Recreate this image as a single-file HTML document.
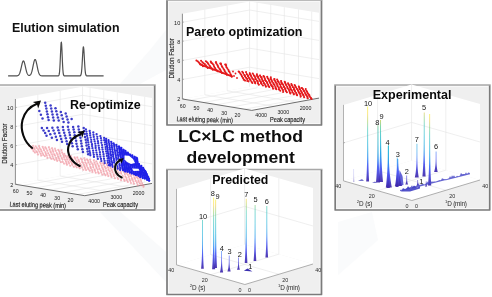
<!DOCTYPE html>
<html><head><meta charset="utf-8"><style>
html,body{margin:0;padding:0;background:#fff;width:492px;height:297px;overflow:hidden}
svg{display:block;font-family:"Liberation Sans",sans-serif;filter:blur(0.45px)}
</style></head><body><svg width="492" height="297" viewBox="0 0 492 297" font-family="Liberation Sans, sans-serif"><rect x="0" y="0" width="492" height="297" fill="#ffffff"/><polygon points="100,212 118,210 166,252 166,282" fill="#f9fafb"/><polygon points="120,84 150,50 166,30 166,70 140,84" fill="#f9fafb"/><polygon points="338,222 372,212 378,240 338,275" fill="#fafbfc"/><text x="12" y="31.8" font-size="12.2" font-weight="bold" fill="#111" text-anchor="start" textLength="107.5" lengthAdjust="spacingAndGlyphs" >Elution simulation</text><polyline points="8.1,75.9 8.35,75.9 8.6,75.9 8.85,75.9 9.1,75.9 9.35,75.9 9.6,75.9 9.85,75.9 10.1,75.9 10.35,75.9 10.6,75.9 10.85,75.9 11.1,75.9 11.35,75.9 11.6,75.9 11.85,75.9 12.1,75.9 12.35,75.9 12.6,75.9 12.85,75.9 13.1,75.9 13.35,75.9 13.6,75.9 13.85,75.9 14.1,75.9 14.35,75.9 14.6,75.9 14.85,75.9 15.1,75.9 15.35,75.9 15.6,75.89 15.85,75.89 16.1,75.88 16.35,75.87 16.6,75.85 16.85,75.83 17.1,75.79 17.35,75.75 17.6,75.68 17.85,75.58 18.1,75.45 18.35,75.28 18.6,75.06 18.85,74.77 19.1,74.41 19.35,73.97 19.6,73.43 19.85,72.8 20.1,72.05 20.35,71.21 20.6,70.27 20.85,69.25 21.1,68.16 21.35,67.03 21.6,65.9 21.85,64.79 22.1,63.76 22.35,62.83 22.6,62.05 22.85,61.46 23.1,61.07 23.35,60.9 23.6,60.97 23.85,61.27 24.1,61.79 24.35,62.5 24.6,63.37 24.85,64.37 25.1,65.45 25.35,66.57 25.6,67.71 25.85,68.82 26.1,69.87 26.35,70.84 26.6,71.73 26.85,72.51 27.1,73.18 27.35,73.76 27.6,74.23 27.85,74.61 28.1,74.92 28.35,75.14 28.6,75.31 28.85,75.41 29.1,75.46 29.35,75.46 29.6,75.4 29.85,75.29 30.1,75.12 30.35,74.89 30.6,74.57 30.85,74.17 31.1,73.67 31.35,73.07 31.6,72.35 31.85,71.52 32.1,70.57 32.35,69.53 32.6,68.39 32.85,67.19 33.1,65.95 33.35,64.72 33.6,63.52 33.85,62.41 34.1,61.43 34.35,60.61 34.6,60 34.85,59.63 35.1,59.5 35.35,59.63 35.6,60 35.85,60.61 36.1,61.43 36.35,62.41 36.6,63.52 36.85,64.72 37.1,65.95 37.35,67.19 37.6,68.39 37.85,69.53 38.1,70.58 38.35,71.52 38.6,72.35 38.85,73.07 39.1,73.68 39.35,74.18 39.6,74.6 39.85,74.92 40.1,75.18 40.35,75.38 40.6,75.53 40.85,75.64 41.1,75.72 41.35,75.78 41.6,75.82 41.85,75.84 42.1,75.86 42.35,75.88 42.6,75.89 42.85,75.89 43.1,75.89 43.35,75.9 43.6,75.9 43.85,75.9 44.1,75.9 44.35,75.9 44.6,75.9 44.85,75.9 45.1,75.9 45.35,75.9 45.6,75.9 45.85,75.9 46.1,75.9 46.35,75.9 46.6,75.9 46.85,75.9 47.1,75.9 47.35,75.9 47.6,75.9 47.85,75.9 48.1,75.9 48.35,75.9 48.6,75.9 48.85,75.9 49.1,75.9 49.35,75.9 49.6,75.9 49.85,75.9 50.1,75.9 50.35,75.9 50.6,75.9 50.85,75.9 51.1,75.9 51.35,75.9 51.6,75.9 51.85,75.9 52.1,75.9 52.35,75.9 52.6,75.9 52.85,75.9 53.1,75.9 53.35,75.9 53.6,75.9 53.85,75.9 54.1,75.9 54.35,75.9 54.6,75.9 54.85,75.9 55.1,75.9 55.35,75.9 55.6,75.9 55.85,75.9 56.1,75.9 56.35,75.9 56.6,75.9 56.85,75.9 57.1,75.9 57.35,75.9 57.6,75.9 57.85,75.89 58.1,75.87 58.35,75.82 58.6,75.68 58.85,75.37 59.1,74.71 59.35,73.46 59.6,71.31 59.85,67.99 60.1,63.39 60.35,57.75 60.6,51.75 60.85,46.43 61.1,42.93 61.35,42.06 61.6,44.05 61.85,48.4 62.1,54.13 62.35,60.09 62.6,65.37 62.85,69.47 63.1,72.3 63.35,74.05 63.6,75.03 63.85,75.52 64.1,75.75 64.35,75.85 64.6,75.88 64.85,75.89 65.1,75.9 65.35,75.9 65.6,75.9 65.85,75.9 66.1,75.9 66.35,75.9 66.6,75.9 66.85,75.9 67.1,75.9 67.35,75.9 67.6,75.9 67.85,75.9 68.1,75.9 68.35,75.9 68.6,75.9 68.85,75.9 69.1,75.9 69.35,75.9 69.6,75.9 69.85,75.9 70.1,75.9 70.35,75.9 70.6,75.9 70.85,75.9 71.1,75.9 71.35,75.9 71.6,75.9 71.85,75.9 72.1,75.9 72.35,75.9 72.6,75.9 72.85,75.9 73.1,75.9 73.35,75.9 73.6,75.9 73.85,75.9 74.1,75.9 74.35,75.9 74.6,75.9 74.85,75.9 75.1,75.9 75.35,75.9 75.6,75.9 75.85,75.9 76.1,75.9 76.35,75.9 76.6,75.9 76.85,75.9 77.1,75.9 77.35,75.9 77.6,75.9 77.85,75.9 78.1,75.9 78.35,75.9 78.6,75.9 78.85,75.9 79.1,75.9 79.35,75.9 79.6,75.89 79.85,75.87 80.1,75.83 80.35,75.73 80.6,75.52 80.85,75.11 81.1,74.35 81.35,73.06 81.6,71.07 81.85,68.21 82.1,64.49 82.35,60.1 82.6,55.49 82.85,51.29 83.1,48.22 83.35,46.84 83.6,47.44 83.85,49.89 84.1,53.72 84.35,58.25 84.6,62.8 84.85,66.82 85.1,70.03 85.35,72.36 85.6,73.91 85.85,74.85 86.1,75.39 86.35,75.67 86.6,75.8 86.85,75.86 87.1,75.89 87.35,75.89 87.6,75.9 87.85,75.9 88.1,75.9 88.35,75.9 88.6,75.9 88.85,75.9 89.1,75.9 89.35,75.9 89.6,75.9 89.85,75.9 90.1,75.9 90.35,75.9 90.6,75.9 90.85,75.9 91.1,75.9 91.35,75.9 91.6,75.9 91.85,75.9 92.1,75.9 92.35,75.9 92.6,75.9 92.85,75.9 93.1,75.9 93.35,75.9 93.6,75.9 93.85,75.9 94.1,75.9 94.35,75.9 94.6,75.9 94.85,75.9 95.1,75.9 95.35,75.9 95.6,75.9 95.85,75.9 96.1,75.9 96.35,75.9 96.6,75.9 96.85,75.9 97.1,75.9 97.35,75.9 97.6,75.9 97.85,75.9 98.1,75.9 98.35,75.9 98.6,75.9 98.85,75.9 99.1,75.9 99.35,75.9 99.6,75.9 99.85,75.9 100.1,75.9 100.35,75.9 100.6,75.9 100.85,75.9 101.1,75.9 101.35,75.9 101.6,75.9 101.85,75.9 102.1,75.9 102.35,75.9 102.6,75.9 102.85,75.9 103.1,75.9 103.35,75.9 103.6,75.9" fill="none" stroke="#505050" stroke-width="1.2" stroke-linejoin="round"/><text x="178" y="142.2" font-size="16.3" font-weight="bold" fill="#0d0d0d" text-anchor="start" textLength="125" lengthAdjust="spacingAndGlyphs" >LC×LC method</text><text x="186.4" y="163.4" font-size="16.3" font-weight="bold" fill="#0d0d0d" text-anchor="start" textLength="108.5" lengthAdjust="spacingAndGlyphs" >development</text><rect x="167" y="0" width="154.5" height="125" fill="#efefef"/><rect x="168.4" y="1.4" width="151.7" height="122.2" fill="none" stroke="#fafafa" stroke-width="0.8"/><path d="M166,0 L322.5,0" stroke="#a8a8a8" stroke-width="1.7" fill="none"/><path d="M167,0.5 L167,125 L321.5,125 L321.5,0.5" stroke="#7b7b7b" stroke-width="1.7" fill="none" stroke-linejoin="round"/><polygon points="182.4,99 249.6,86.7 249.6,1.4 182.4,13.7" fill="#ffffff" stroke="none" stroke-width="1" /><polygon points="249.6,86.7 319,98.1 319,12.8 249.6,1.4" fill="#ffffff" stroke="none" stroke-width="1" /><polygon points="182.4,99 251.8,110.4 319,98.1 249.6,86.7" fill="#ffffff" stroke="none" stroke-width="1" /><line x1="182.4" y1="22.3" x2="249.6" y2="10" stroke="#e4e4e4" stroke-width="0.6" /><line x1="249.6" y1="10" x2="319" y2="21.4" stroke="#e4e4e4" stroke-width="0.6" /><line x1="182.4" y1="41.3" x2="249.6" y2="29" stroke="#e4e4e4" stroke-width="0.6" /><line x1="249.6" y1="29" x2="319" y2="40.4" stroke="#e4e4e4" stroke-width="0.6" /><line x1="182.4" y1="60.5" x2="249.6" y2="48.2" stroke="#e4e4e4" stroke-width="0.6" /><line x1="249.6" y1="48.2" x2="319" y2="59.6" stroke="#e4e4e4" stroke-width="0.6" /><line x1="182.4" y1="79.5" x2="249.6" y2="67.2" stroke="#e4e4e4" stroke-width="0.6" /><line x1="249.6" y1="67.2" x2="319" y2="78.6" stroke="#e4e4e4" stroke-width="0.6" /><line x1="204.8" y1="94.9" x2="204.8" y2="9.6" stroke="#e4e4e4" stroke-width="0.6" /><line x1="274.2" y1="106.3" x2="204.8" y2="94.9" stroke="#e4e4e4" stroke-width="0.6" /><line x1="227.2" y1="90.8" x2="227.2" y2="5.5" stroke="#e4e4e4" stroke-width="0.6" /><line x1="296.6" y1="102.2" x2="227.2" y2="90.8" stroke="#e4e4e4" stroke-width="0.6" /><line x1="257.1" y1="87.93" x2="257.1" y2="2.63" stroke="#e4e4e4" stroke-width="0.6" /><line x1="189.9" y1="100.23" x2="257.1" y2="87.93" stroke="#e4e4e4" stroke-width="0.6" /><line x1="270.77" y1="90.18" x2="270.77" y2="4.88" stroke="#e4e4e4" stroke-width="0.6" /><line x1="203.57" y1="102.48" x2="270.77" y2="90.18" stroke="#e4e4e4" stroke-width="0.6" /><line x1="284.3" y1="92.4" x2="284.3" y2="7.1" stroke="#e4e4e4" stroke-width="0.6" /><line x1="217.1" y1="104.7" x2="284.3" y2="92.4" stroke="#e4e4e4" stroke-width="0.6" /><line x1="298.53" y1="94.74" x2="298.53" y2="9.44" stroke="#e4e4e4" stroke-width="0.6" /><line x1="231.33" y1="107.04" x2="298.53" y2="94.74" stroke="#e4e4e4" stroke-width="0.6" /><line x1="311.71" y1="96.9" x2="311.71" y2="11.6" stroke="#e4e4e4" stroke-width="0.6" /><line x1="244.51" y1="109.2" x2="311.71" y2="96.9" stroke="#e4e4e4" stroke-width="0.6" /><line x1="249.6" y1="86.7" x2="249.6" y2="1.4" stroke="#e4e4e4" stroke-width="0.6" /><line x1="182.4" y1="13.7" x2="182.4" y2="99" stroke="#8c8c8c" stroke-width="1" /><line x1="182.4" y1="99" x2="251.8" y2="110.4" stroke="#6e6e6e" stroke-width="1" /><line x1="251.8" y1="110.4" x2="319" y2="98.1" stroke="#6e6e6e" stroke-width="1" /><text x="180.3" y="24.5" font-size="6.2" font-weight="normal" fill="#1c1c1c" text-anchor="end" textLength="6.2" lengthAdjust="spacingAndGlyphs" >10</text><line x1="182.4" y1="22.3" x2="183.9" y2="22" stroke="#8c8c8c" stroke-width="0.6" /><text x="180.3" y="43.5" font-size="6.2" font-weight="normal" fill="#1c1c1c" text-anchor="end" textLength="3.1" lengthAdjust="spacingAndGlyphs" >8</text><line x1="182.4" y1="41.3" x2="183.9" y2="41" stroke="#8c8c8c" stroke-width="0.6" /><text x="180.3" y="62.7" font-size="6.2" font-weight="normal" fill="#1c1c1c" text-anchor="end" textLength="3.1" lengthAdjust="spacingAndGlyphs" >6</text><line x1="182.4" y1="60.5" x2="183.9" y2="60.2" stroke="#8c8c8c" stroke-width="0.6" /><text x="180.3" y="81.7" font-size="6.2" font-weight="normal" fill="#1c1c1c" text-anchor="end" textLength="3.1" lengthAdjust="spacingAndGlyphs" >4</text><line x1="182.4" y1="79.5" x2="183.9" y2="79.2" stroke="#8c8c8c" stroke-width="0.6" /><text x="180.3" y="101.2" font-size="6.2" font-weight="normal" fill="#1c1c1c" text-anchor="end" textLength="3.1" lengthAdjust="spacingAndGlyphs" >2</text><line x1="182.4" y1="99" x2="183.9" y2="98.7" stroke="#8c8c8c" stroke-width="0.6" /><text x="182.7" y="107.5" font-size="6.2" font-weight="normal" fill="#1c1c1c" text-anchor="middle" textLength="5.86" lengthAdjust="spacingAndGlyphs" >60</text><text x="196.4" y="109.6" font-size="6.2" font-weight="normal" fill="#1c1c1c" text-anchor="middle" textLength="5.86" lengthAdjust="spacingAndGlyphs" >50</text><text x="210.1" y="112.1" font-size="6.2" font-weight="normal" fill="#1c1c1c" text-anchor="middle" textLength="5.86" lengthAdjust="spacingAndGlyphs" >40</text><text x="224.3" y="114.6" font-size="6.2" font-weight="normal" fill="#1c1c1c" text-anchor="middle" textLength="5.86" lengthAdjust="spacingAndGlyphs" >30</text><text x="237.5" y="117" font-size="6.2" font-weight="normal" fill="#1c1c1c" text-anchor="middle" textLength="5.86" lengthAdjust="spacingAndGlyphs" >20</text><text x="261.2" y="117.2" font-size="6.2" font-weight="normal" fill="#1c1c1c" text-anchor="middle" textLength="11.72" lengthAdjust="spacingAndGlyphs" >4000</text><text x="283.3" y="113.7" font-size="6.2" font-weight="normal" fill="#1c1c1c" text-anchor="middle" textLength="11.72" lengthAdjust="spacingAndGlyphs" >3000</text><text x="305.5" y="109.5" font-size="6.2" font-weight="normal" fill="#1c1c1c" text-anchor="middle" textLength="11.72" lengthAdjust="spacingAndGlyphs" >2000</text><text x="176.6" y="121.2" font-size="6.9" font-weight="normal" fill="#1c1c1c" text-anchor="start" textLength="56.5" lengthAdjust="spacingAndGlyphs" stroke="#1c1c1c" stroke-width="0.15" transform="rotate(1.5 176.6 118)">Last eluting peak (min)</text><text x="270" y="121.6" font-size="6.9" font-weight="normal" fill="#1c1c1c" text-anchor="start" textLength="35" lengthAdjust="spacingAndGlyphs" stroke="#1c1c1c" stroke-width="0.15">Peak capacity</text><text x="174.2" y="58.3" font-size="7" font-weight="normal" fill="#1c1c1c" text-anchor="middle" textLength="40.5" lengthAdjust="spacingAndGlyphs" stroke="#1c1c1c" stroke-width="0.15" transform="rotate(-90 174.2 58.3)">Dilution Factor</text><g stroke="#e41a1c" stroke-width="1" stroke-linecap="round" opacity="1"><line x1="196.5" y1="60.63" x2="203" y2="65.99"/><line x1="201.3" y1="60.9" x2="207.8" y2="67.78"/><line x1="206.1" y1="61.17" x2="212.6" y2="69.57"/><line x1="210.9" y1="61.44" x2="217.4" y2="71.36"/><line x1="215.7" y1="62.33" x2="222.2" y2="73.15"/><line x1="220.5" y1="63.4" x2="227" y2="74.94"/><line x1="225.3" y1="64.47" x2="231.8" y2="76.73"/></g><g fill="#e41a1c" opacity="1"><circle cx="196.39" cy="60.42" r="1"/><circle cx="197.67" cy="61.27" r="1"/><circle cx="198.69" cy="62.34" r="1"/><circle cx="199.48" cy="63.31" r="1"/><circle cx="200.56" cy="64.16" r="1"/><circle cx="201.66" cy="64.85" r="1"/><circle cx="202.95" cy="66.19" r="1"/><circle cx="201.07" cy="60.73" r="1"/><circle cx="202.46" cy="62.31" r="1"/><circle cx="203.51" cy="63.13" r="1"/><circle cx="204.84" cy="64.07" r="1"/><circle cx="205.85" cy="65.36" r="1"/><circle cx="206.5" cy="66.4" r="1"/><circle cx="207.69" cy="67.97" r="1"/><circle cx="205.91" cy="61.22" r="1"/><circle cx="207.11" cy="62.29" r="1"/><circle cx="207.99" cy="63.31" r="1"/><circle cx="208.62" cy="64.59" r="1"/><circle cx="209.92" cy="65.93" r="1"/><circle cx="210.63" cy="67.22" r="1"/><circle cx="211.64" cy="68.25" r="1"/><circle cx="212.78" cy="69.69" r="1"/><circle cx="210.75" cy="61.48" r="1"/><circle cx="211.73" cy="62.9" r="1"/><circle cx="212.66" cy="63.79" r="1"/><circle cx="213.63" cy="64.93" r="1"/><circle cx="214.1" cy="66.55" r="1"/><circle cx="214.75" cy="67.63" r="1"/><circle cx="215.5" cy="68.98" r="1"/><circle cx="216.75" cy="70.16" r="1"/><circle cx="217.63" cy="71.25" r="1"/><circle cx="215.82" cy="62.38" r="1"/><circle cx="216.47" cy="63.5" r="1"/><circle cx="217.35" cy="65" r="1"/><circle cx="217.85" cy="66.03" r="1"/><circle cx="218.33" cy="67.26" r="1"/><circle cx="219.4" cy="68.63" r="1"/><circle cx="220.23" cy="69.41" r="1"/><circle cx="220.69" cy="70.84" r="1"/><circle cx="221.19" cy="71.92" r="1"/><circle cx="222" cy="72.92" r="1"/><circle cx="220.24" cy="63.56" r="1"/><circle cx="221" cy="64.53" r="1"/><circle cx="221.88" cy="66.19" r="1"/><circle cx="222.42" cy="67.21" r="1"/><circle cx="223.42" cy="68.76" r="1"/><circle cx="224.3" cy="70.03" r="1"/><circle cx="224.7" cy="71.04" r="1"/><circle cx="225.47" cy="72.6" r="1"/><circle cx="226.55" cy="73.45" r="1"/><circle cx="226.81" cy="74.78" r="1"/><circle cx="225.14" cy="64.46" r="1"/><circle cx="226.08" cy="65.69" r="1"/><circle cx="226.45" cy="67.15" r="1"/><circle cx="227.39" cy="68.6" r="1"/><circle cx="228.46" cy="70.03" r="1"/><circle cx="228.92" cy="71.35" r="1"/><circle cx="229.74" cy="72.37" r="1"/><circle cx="230.6" cy="74.17" r="1"/><circle cx="231.3" cy="75.54" r="1"/><circle cx="231.74" cy="76.66" r="1"/></g><g stroke="#e41a1c" stroke-width="1.2" stroke-linecap="round" opacity="1"><line x1="239" y1="71.45" x2="245" y2="80.77"/><line x1="242.5" y1="71.98" x2="248.5" y2="81.71"/><line x1="246" y1="72.55" x2="252" y2="82.64"/><line x1="249.5" y1="73.11" x2="255.5" y2="83.58"/><line x1="253" y1="73.68" x2="259" y2="84.52"/><line x1="256.5" y1="74.35" x2="262.5" y2="85.46"/><line x1="260" y1="75.17" x2="266" y2="86.39"/><line x1="263.5" y1="75.98" x2="269.5" y2="87.33"/><line x1="267" y1="76.8" x2="273" y2="88.3"/><line x1="270.5" y1="77.65" x2="276.5" y2="89.35"/><line x1="274" y1="78.7" x2="280" y2="90.4"/><line x1="277.5" y1="79.75" x2="283.5" y2="91.45"/><line x1="281" y1="80.8" x2="287" y2="92.5"/><line x1="284.5" y1="81.85" x2="290.5" y2="93.55"/><line x1="288" y1="82.9" x2="294" y2="94.55"/><line x1="291.5" y1="84.01" x2="297.5" y2="95.51"/><line x1="295" y1="85.2" x2="301" y2="96.47"/><line x1="298.5" y1="86.39" x2="304.5" y2="97.44"/><line x1="302" y1="87.58" x2="308" y2="98.4"/><line x1="305.5" y1="89.3" x2="311.5" y2="99.36"/></g><g fill="#e41a1c" opacity="1"><circle cx="238.6" cy="71.59" r="1"/><circle cx="239.42" cy="72.35" r="1"/><circle cx="240.42" cy="73.78" r="1"/><circle cx="241.41" cy="75" r="1"/><circle cx="241.93" cy="76.43" r="1"/><circle cx="242.89" cy="77.97" r="1"/><circle cx="243.67" cy="79.81" r="1"/><circle cx="245.11" cy="80.42" r="1"/><circle cx="242.25" cy="71.83" r="1"/><circle cx="243.11" cy="72.82" r="1"/><circle cx="244.35" cy="74.91" r="1"/><circle cx="244.72" cy="75.61" r="1"/><circle cx="245.09" cy="76.45" r="1"/><circle cx="246.09" cy="77.82" r="1"/><circle cx="247.33" cy="78.94" r="1"/><circle cx="247.27" cy="80.94" r="1"/><circle cx="248.53" cy="81.35" r="1"/><circle cx="246.04" cy="72.08" r="1"/><circle cx="246.78" cy="74.29" r="1"/><circle cx="247.86" cy="75.27" r="1"/><circle cx="248.01" cy="76.2" r="1"/><circle cx="248.67" cy="77.87" r="1"/><circle cx="249.78" cy="79.14" r="1"/><circle cx="250.33" cy="79.84" r="1"/><circle cx="251.56" cy="81.87" r="1"/><circle cx="252.35" cy="82.95" r="1"/><circle cx="249.82" cy="73.35" r="1"/><circle cx="249.98" cy="74.44" r="1"/><circle cx="250.86" cy="75.26" r="1"/><circle cx="251.28" cy="76.82" r="1"/><circle cx="252.26" cy="78.54" r="1"/><circle cx="253.71" cy="79.6" r="1"/><circle cx="254.44" cy="81.45" r="1"/><circle cx="255.21" cy="82.14" r="1"/><circle cx="255.22" cy="83.31" r="1"/><circle cx="252.7" cy="73.38" r="1"/><circle cx="253.87" cy="75.43" r="1"/><circle cx="254.84" cy="76.37" r="1"/><circle cx="255.4" cy="78.04" r="1"/><circle cx="255.58" cy="79.26" r="1"/><circle cx="257.16" cy="80.73" r="1"/><circle cx="257.75" cy="81.79" r="1"/><circle cx="257.93" cy="83.45" r="1"/><circle cx="258.83" cy="84.82" r="1"/><circle cx="256.97" cy="74.25" r="1"/><circle cx="257.07" cy="76.03" r="1"/><circle cx="258.06" cy="76.49" r="1"/><circle cx="258.13" cy="77.7" r="1"/><circle cx="259.57" cy="79.59" r="1"/><circle cx="259.48" cy="80.85" r="1"/><circle cx="260.98" cy="81.91" r="1"/><circle cx="261.02" cy="83.04" r="1"/><circle cx="261.46" cy="83.74" r="1"/><circle cx="262.97" cy="85.61" r="1"/><circle cx="260.03" cy="75.6" r="1"/><circle cx="260.6" cy="76.79" r="1"/><circle cx="261.66" cy="77.37" r="1"/><circle cx="261.75" cy="78.7" r="1"/><circle cx="262.41" cy="80.24" r="1"/><circle cx="263.09" cy="81.32" r="1"/><circle cx="263.63" cy="83.06" r="1"/><circle cx="264.52" cy="83.86" r="1"/><circle cx="265.42" cy="85.55" r="1"/><circle cx="265.92" cy="86.81" r="1"/><circle cx="263.5" cy="76.02" r="1"/><circle cx="264.19" cy="76.76" r="1"/><circle cx="264.77" cy="78.19" r="1"/><circle cx="265" cy="80.06" r="1"/><circle cx="265.84" cy="81" r="1"/><circle cx="267.06" cy="82.34" r="1"/><circle cx="267.33" cy="83.57" r="1"/><circle cx="268.22" cy="85.09" r="1"/><circle cx="268.44" cy="86.13" r="1"/><circle cx="269.25" cy="87.11" r="1"/><circle cx="267.27" cy="76.81" r="1"/><circle cx="267.73" cy="78.34" r="1"/><circle cx="268.75" cy="79.3" r="1"/><circle cx="269.11" cy="80.64" r="1"/><circle cx="269.68" cy="82.1" r="1"/><circle cx="270.29" cy="83.22" r="1"/><circle cx="270.98" cy="84.91" r="1"/><circle cx="271.87" cy="86.12" r="1"/><circle cx="272.78" cy="86.78" r="1"/><circle cx="273.06" cy="88.74" r="1"/><circle cx="270.84" cy="77.29" r="1"/><circle cx="270.79" cy="78.89" r="1"/><circle cx="271.41" cy="79.99" r="1"/><circle cx="272.07" cy="81.72" r="1"/><circle cx="273.45" cy="83.25" r="1"/><circle cx="273.49" cy="84.37" r="1"/><circle cx="274.66" cy="85.09" r="1"/><circle cx="275.55" cy="87.22" r="1"/><circle cx="275.55" cy="88.5" r="1"/><circle cx="276.4" cy="89.34" r="1"/><circle cx="274.49" cy="79.03" r="1"/><circle cx="274.33" cy="79.93" r="1"/><circle cx="275.35" cy="81.14" r="1"/><circle cx="275.7" cy="82.42" r="1"/><circle cx="276.89" cy="83.42" r="1"/><circle cx="277.39" cy="85.14" r="1"/><circle cx="277.52" cy="86.33" r="1"/><circle cx="278.79" cy="87.81" r="1"/><circle cx="278.9" cy="89.59" r="1"/><circle cx="280.29" cy="90.87" r="1"/><circle cx="277.1" cy="79.52" r="1"/><circle cx="277.71" cy="81.33" r="1"/><circle cx="278.6" cy="81.98" r="1"/><circle cx="279.42" cy="84.06" r="1"/><circle cx="280.49" cy="84.71" r="1"/><circle cx="280.48" cy="86.67" r="1"/><circle cx="281.57" cy="87.75" r="1"/><circle cx="281.76" cy="88.41" r="1"/><circle cx="283.02" cy="90.08" r="1"/><circle cx="283.07" cy="91.89" r="1"/><circle cx="281.13" cy="81.1" r="1"/><circle cx="281.25" cy="82.46" r="1"/><circle cx="281.9" cy="83.76" r="1"/><circle cx="282.95" cy="84.54" r="1"/><circle cx="283.72" cy="86.43" r="1"/><circle cx="284.1" cy="86.93" r="1"/><circle cx="285.03" cy="88.34" r="1"/><circle cx="285.28" cy="89.56" r="1"/><circle cx="285.88" cy="90.9" r="1"/><circle cx="286.81" cy="92.31" r="1"/><circle cx="284.76" cy="81.64" r="1"/><circle cx="285.17" cy="82.83" r="1"/><circle cx="285.68" cy="83.97" r="1"/><circle cx="286.25" cy="85.27" r="1"/><circle cx="287.4" cy="87.1" r="1"/><circle cx="287.52" cy="88.32" r="1"/><circle cx="288.93" cy="89.26" r="1"/><circle cx="289.49" cy="90.88" r="1"/><circle cx="289.83" cy="92.58" r="1"/><circle cx="290.39" cy="93.56" r="1"/><circle cx="288.19" cy="83.38" r="1"/><circle cx="288.51" cy="84.53" r="1"/><circle cx="289.54" cy="85.62" r="1"/><circle cx="289.9" cy="86.63" r="1"/><circle cx="290.22" cy="87.71" r="1"/><circle cx="290.9" cy="89.61" r="1"/><circle cx="291.76" cy="90.33" r="1"/><circle cx="292.25" cy="92.3" r="1"/><circle cx="293.7" cy="93.43" r="1"/><circle cx="293.78" cy="94.29" r="1"/><circle cx="291.29" cy="83.97" r="1"/><circle cx="291.82" cy="85.23" r="1"/><circle cx="292.6" cy="87.03" r="1"/><circle cx="293.97" cy="87.89" r="1"/><circle cx="293.91" cy="89.59" r="1"/><circle cx="294.64" cy="90.26" r="1"/><circle cx="295" cy="91.56" r="1"/><circle cx="296.14" cy="92.96" r="1"/><circle cx="296.53" cy="94.24" r="1"/><circle cx="297" cy="95.28" r="1"/><circle cx="294.59" cy="85.1" r="1"/><circle cx="295.21" cy="85.98" r="1"/><circle cx="296.14" cy="87.44" r="1"/><circle cx="297.09" cy="88.99" r="1"/><circle cx="297.92" cy="90.37" r="1"/><circle cx="298.55" cy="91.84" r="1"/><circle cx="298.89" cy="92.54" r="1"/><circle cx="300.15" cy="93.62" r="1"/><circle cx="300.56" cy="95.37" r="1"/><circle cx="300.54" cy="96.81" r="1"/><circle cx="298.89" cy="86.52" r="1"/><circle cx="299.48" cy="88.08" r="1"/><circle cx="299.64" cy="89.18" r="1"/><circle cx="300.75" cy="90.87" r="1"/><circle cx="301.8" cy="92.24" r="1"/><circle cx="302.33" cy="93.69" r="1"/><circle cx="303.18" cy="94.87" r="1"/><circle cx="303.48" cy="95.59" r="1"/><circle cx="304.13" cy="97.3" r="1"/><circle cx="301.6" cy="87.92" r="1"/><circle cx="302.81" cy="89.06" r="1"/><circle cx="303.63" cy="90.47" r="1"/><circle cx="304.24" cy="91.14" r="1"/><circle cx="305.3" cy="93.24" r="1"/><circle cx="305.75" cy="94.38" r="1"/><circle cx="306.66" cy="95.26" r="1"/><circle cx="307.49" cy="96.8" r="1"/><circle cx="307.57" cy="98.17" r="1"/><circle cx="305.73" cy="89.01" r="1"/><circle cx="306.49" cy="91.03" r="1"/><circle cx="306.99" cy="91.7" r="1"/><circle cx="307.73" cy="93.26" r="1"/><circle cx="308.77" cy="94.45" r="1"/><circle cx="309.39" cy="95.17" r="1"/><circle cx="309.65" cy="96.6" r="1"/><circle cx="310.99" cy="97.91" r="1"/><circle cx="311.57" cy="98.87" r="1"/></g><polyline points="200,64.37 216,70.34 232,76.3" fill="none" stroke="#e41a1c" stroke-width="1.8" stroke-linecap="round" opacity="1"/><g fill="#e41a1c" opacity="1"><circle cx="233" cy="71.5" r="0.9"/><circle cx="235.5" cy="73.5" r="0.9"/><circle cx="234" cy="76" r="0.9"/><circle cx="237" cy="78" r="0.9"/><circle cx="211" cy="62.5" r="0.9"/><circle cx="216" cy="62" r="0.9"/><circle cx="221" cy="63.5" r="0.9"/><circle cx="226" cy="64.5" r="0.9"/></g><text x="186" y="35.9" font-size="12.3" font-weight="bold" fill="#0a0a0a" text-anchor="start" textLength="116.5" lengthAdjust="spacingAndGlyphs" >Pareto optimization</text><rect x="-2.5" y="85" width="157.2" height="125" fill="#efefef"/><rect x="-1.1" y="86.4" width="154.4" height="122.2" fill="none" stroke="#fafafa" stroke-width="0.8"/><path d="M-3.5,85 L155.7,85" stroke="#a8a8a8" stroke-width="1.7" fill="none"/><path d="M-2.5,85.5 L-2.5,210 L154.7,210 L154.7,85.5" stroke="#7b7b7b" stroke-width="1.7" fill="none" stroke-linejoin="round"/><polygon points="15.4,184.3 82.6,172 82.6,86.7 15.4,99" fill="#ffffff" stroke="none" stroke-width="1" /><polygon points="82.6,172 152,183.4 152,98.1 82.6,86.7" fill="#ffffff" stroke="none" stroke-width="1" /><polygon points="15.4,184.3 84.8,195.7 152,183.4 82.6,172" fill="#ffffff" stroke="none" stroke-width="1" /><line x1="15.4" y1="107.6" x2="82.6" y2="95.3" stroke="#e4e4e4" stroke-width="0.6" /><line x1="82.6" y1="95.3" x2="152" y2="106.7" stroke="#e4e4e4" stroke-width="0.6" /><line x1="15.4" y1="126.6" x2="82.6" y2="114.3" stroke="#e4e4e4" stroke-width="0.6" /><line x1="82.6" y1="114.3" x2="152" y2="125.7" stroke="#e4e4e4" stroke-width="0.6" /><line x1="15.4" y1="145.8" x2="82.6" y2="133.5" stroke="#e4e4e4" stroke-width="0.6" /><line x1="82.6" y1="133.5" x2="152" y2="144.9" stroke="#e4e4e4" stroke-width="0.6" /><line x1="15.4" y1="164.8" x2="82.6" y2="152.5" stroke="#e4e4e4" stroke-width="0.6" /><line x1="82.6" y1="152.5" x2="152" y2="163.9" stroke="#e4e4e4" stroke-width="0.6" /><line x1="37.8" y1="180.2" x2="37.8" y2="94.9" stroke="#e4e4e4" stroke-width="0.6" /><line x1="107.2" y1="191.6" x2="37.8" y2="180.2" stroke="#e4e4e4" stroke-width="0.6" /><line x1="60.2" y1="176.1" x2="60.2" y2="90.8" stroke="#e4e4e4" stroke-width="0.6" /><line x1="129.6" y1="187.5" x2="60.2" y2="176.1" stroke="#e4e4e4" stroke-width="0.6" /><line x1="90.1" y1="173.23" x2="90.1" y2="87.93" stroke="#e4e4e4" stroke-width="0.6" /><line x1="22.9" y1="185.53" x2="90.1" y2="173.23" stroke="#e4e4e4" stroke-width="0.6" /><line x1="103.77" y1="175.48" x2="103.77" y2="90.18" stroke="#e4e4e4" stroke-width="0.6" /><line x1="36.57" y1="187.78" x2="103.77" y2="175.48" stroke="#e4e4e4" stroke-width="0.6" /><line x1="117.3" y1="177.7" x2="117.3" y2="92.4" stroke="#e4e4e4" stroke-width="0.6" /><line x1="50.1" y1="190" x2="117.3" y2="177.7" stroke="#e4e4e4" stroke-width="0.6" /><line x1="131.53" y1="180.04" x2="131.53" y2="94.74" stroke="#e4e4e4" stroke-width="0.6" /><line x1="64.33" y1="192.34" x2="131.53" y2="180.04" stroke="#e4e4e4" stroke-width="0.6" /><line x1="144.71" y1="182.2" x2="144.71" y2="96.9" stroke="#e4e4e4" stroke-width="0.6" /><line x1="77.51" y1="194.5" x2="144.71" y2="182.2" stroke="#e4e4e4" stroke-width="0.6" /><line x1="82.6" y1="172" x2="82.6" y2="86.7" stroke="#e4e4e4" stroke-width="0.6" /><line x1="15.4" y1="99" x2="15.4" y2="184.3" stroke="#8c8c8c" stroke-width="1" /><line x1="15.4" y1="184.3" x2="84.8" y2="195.7" stroke="#6e6e6e" stroke-width="1" /><line x1="84.8" y1="195.7" x2="152" y2="183.4" stroke="#6e6e6e" stroke-width="1" /><text x="13.3" y="109.8" font-size="6.2" font-weight="normal" fill="#1c1c1c" text-anchor="end" textLength="6.2" lengthAdjust="spacingAndGlyphs" >10</text><line x1="15.4" y1="107.6" x2="16.9" y2="107.3" stroke="#8c8c8c" stroke-width="0.6" /><text x="13.3" y="128.8" font-size="6.2" font-weight="normal" fill="#1c1c1c" text-anchor="end" textLength="3.1" lengthAdjust="spacingAndGlyphs" >8</text><line x1="15.4" y1="126.6" x2="16.9" y2="126.3" stroke="#8c8c8c" stroke-width="0.6" /><text x="13.3" y="148" font-size="6.2" font-weight="normal" fill="#1c1c1c" text-anchor="end" textLength="3.1" lengthAdjust="spacingAndGlyphs" >6</text><line x1="15.4" y1="145.8" x2="16.9" y2="145.5" stroke="#8c8c8c" stroke-width="0.6" /><text x="13.3" y="167" font-size="6.2" font-weight="normal" fill="#1c1c1c" text-anchor="end" textLength="3.1" lengthAdjust="spacingAndGlyphs" >4</text><line x1="15.4" y1="164.8" x2="16.9" y2="164.5" stroke="#8c8c8c" stroke-width="0.6" /><text x="13.3" y="186.5" font-size="6.2" font-weight="normal" fill="#1c1c1c" text-anchor="end" textLength="3.1" lengthAdjust="spacingAndGlyphs" >2</text><line x1="15.4" y1="184.3" x2="16.9" y2="184" stroke="#8c8c8c" stroke-width="0.6" /><text x="15.7" y="192.8" font-size="6.2" font-weight="normal" fill="#1c1c1c" text-anchor="middle" textLength="5.86" lengthAdjust="spacingAndGlyphs" >60</text><text x="29.4" y="194.9" font-size="6.2" font-weight="normal" fill="#1c1c1c" text-anchor="middle" textLength="5.86" lengthAdjust="spacingAndGlyphs" >50</text><text x="43.1" y="197.4" font-size="6.2" font-weight="normal" fill="#1c1c1c" text-anchor="middle" textLength="5.86" lengthAdjust="spacingAndGlyphs" >40</text><text x="57.3" y="199.9" font-size="6.2" font-weight="normal" fill="#1c1c1c" text-anchor="middle" textLength="5.86" lengthAdjust="spacingAndGlyphs" >30</text><text x="70.5" y="202.3" font-size="6.2" font-weight="normal" fill="#1c1c1c" text-anchor="middle" textLength="5.86" lengthAdjust="spacingAndGlyphs" >20</text><text x="94.2" y="202.5" font-size="6.2" font-weight="normal" fill="#1c1c1c" text-anchor="middle" textLength="11.72" lengthAdjust="spacingAndGlyphs" >4000</text><text x="116.3" y="199" font-size="6.2" font-weight="normal" fill="#1c1c1c" text-anchor="middle" textLength="11.72" lengthAdjust="spacingAndGlyphs" >3000</text><text x="138.5" y="194.8" font-size="6.2" font-weight="normal" fill="#1c1c1c" text-anchor="middle" textLength="11.72" lengthAdjust="spacingAndGlyphs" >2000</text><text x="9.6" y="206.5" font-size="6.9" font-weight="normal" fill="#1c1c1c" text-anchor="start" textLength="56.5" lengthAdjust="spacingAndGlyphs" stroke="#1c1c1c" stroke-width="0.15" transform="rotate(1.5 9.6 203.3)">Last eluting peak (min)</text><text x="103" y="206.9" font-size="6.9" font-weight="normal" fill="#1c1c1c" text-anchor="start" textLength="35" lengthAdjust="spacingAndGlyphs" stroke="#1c1c1c" stroke-width="0.15">Peak capacity</text><text x="7.2" y="143.6" font-size="7" font-weight="normal" fill="#1c1c1c" text-anchor="middle" textLength="40.5" lengthAdjust="spacingAndGlyphs" stroke="#1c1c1c" stroke-width="0.15" transform="rotate(-90 7.2 143.6)">Dilution Factor</text><g stroke="#ee8490" stroke-width="0.7" stroke-linecap="round" opacity="0.5"><line x1="29.5" y1="145.93" x2="35" y2="152.92"/><line x1="32.7" y1="146.11" x2="38.2" y2="154.11"/><line x1="35.9" y1="146.29" x2="41.4" y2="155.3"/><line x1="39.1" y1="146.47" x2="44.6" y2="156.5"/><line x1="42.3" y1="146.65" x2="47.8" y2="157.69"/><line x1="45.5" y1="146.91" x2="51" y2="158.88"/><line x1="48.7" y1="147.63" x2="54.2" y2="160.07"/><line x1="51.9" y1="148.34" x2="57.4" y2="161.27"/><line x1="55.1" y1="149.06" x2="60.6" y2="162.46"/><line x1="58.3" y1="149.77" x2="63.8" y2="163.65"/><line x1="61.5" y1="150.49" x2="67" y2="164.72"/><line x1="64.7" y1="153.68" x2="70.2" y2="165.7"/><line x1="67.9" y1="156.38" x2="73.4" y2="166.69"/><line x1="71.1" y1="156.67" x2="76.6" y2="167.68"/><line x1="74.3" y1="157.09" x2="79.8" y2="168.55"/><line x1="77.5" y1="157.61" x2="83" y2="169.41"/><line x1="80.7" y1="158.12" x2="86.2" y2="170.26"/><line x1="83.9" y1="158.64" x2="89.4" y2="171.12"/><line x1="87.1" y1="159.15" x2="92.6" y2="171.98"/><line x1="90.3" y1="159.84" x2="95.8" y2="172.84"/><line x1="93.5" y1="160.58" x2="99" y2="173.69"/><line x1="96.7" y1="161.33" x2="102.2" y2="174.55"/><line x1="99.9" y1="162.08" x2="105.4" y2="175.42"/><line x1="103.1" y1="162.83" x2="108.6" y2="176.38"/><line x1="106.3" y1="163.79" x2="111.8" y2="177.34"/><line x1="109.5" y1="164.75" x2="115" y2="178.3"/><line x1="112.7" y1="165.71" x2="118.2" y2="179.26"/><line x1="115.9" y1="166.67" x2="121.4" y2="180.22"/><line x1="119.1" y1="167.63" x2="124.6" y2="181.18"/><line x1="122.3" y1="168.59" x2="127.8" y2="182.07"/><line x1="125.5" y1="169.65" x2="131" y2="182.95"/><line x1="128.7" y1="170.74" x2="134.2" y2="183.83"/><line x1="131.9" y1="171.83" x2="137.4" y2="184.71"/><line x1="135.1" y1="172.91" x2="140.6" y2="185.59"/><line x1="138.3" y1="174.32" x2="143.8" y2="186.47"/></g><g fill="#ee8490" opacity="0.5"><circle cx="29.06" cy="145.7" r="1.15"/><circle cx="31.05" cy="147.87" r="1.15"/><circle cx="32.43" cy="149.21" r="1.15"/><circle cx="33.64" cy="151.14" r="1.15"/><circle cx="34.97" cy="152.54" r="1.15"/><circle cx="33.09" cy="145.81" r="1.15"/><circle cx="34.28" cy="148.14" r="1.15"/><circle cx="34.42" cy="149.27" r="1.15"/><circle cx="36.32" cy="151.38" r="1.15"/><circle cx="37.05" cy="152.28" r="1.15"/><circle cx="37.91" cy="154.56" r="1.15"/><circle cx="35.61" cy="146.37" r="1.15"/><circle cx="36.64" cy="148.12" r="1.15"/><circle cx="38.55" cy="149.53" r="1.15"/><circle cx="39.52" cy="151.71" r="1.15"/><circle cx="40.69" cy="153.7" r="1.15"/><circle cx="41.13" cy="155.7" r="1.15"/><circle cx="39.09" cy="145.99" r="1.15"/><circle cx="39.52" cy="148.13" r="1.15"/><circle cx="40.88" cy="149.61" r="1.15"/><circle cx="41.49" cy="151.33" r="1.15"/><circle cx="42.58" cy="153.49" r="1.15"/><circle cx="43.19" cy="155.08" r="1.15"/><circle cx="44.94" cy="156.12" r="1.15"/><circle cx="42.73" cy="146.86" r="1.15"/><circle cx="43.62" cy="148.28" r="1.15"/><circle cx="44.01" cy="150.22" r="1.15"/><circle cx="45.55" cy="152.26" r="1.15"/><circle cx="45.83" cy="153.94" r="1.15"/><circle cx="46.66" cy="155.4" r="1.15"/><circle cx="47.4" cy="158.02" r="1.15"/><circle cx="45.29" cy="147.35" r="1.15"/><circle cx="46.17" cy="148.67" r="1.15"/><circle cx="47.34" cy="150.59" r="1.15"/><circle cx="48.12" cy="153.35" r="1.15"/><circle cx="49.55" cy="155.2" r="1.15"/><circle cx="50.21" cy="157.3" r="1.15"/><circle cx="51.44" cy="158.93" r="1.15"/><circle cx="48.92" cy="147.18" r="1.15"/><circle cx="49.72" cy="149.36" r="1.15"/><circle cx="50.52" cy="151.33" r="1.15"/><circle cx="50.84" cy="152.51" r="1.15"/><circle cx="52.27" cy="154.37" r="1.15"/><circle cx="52.6" cy="156.36" r="1.15"/><circle cx="53.21" cy="158.54" r="1.15"/><circle cx="54.68" cy="159.83" r="1.15"/><circle cx="52.06" cy="148.14" r="1.15"/><circle cx="52.74" cy="150.08" r="1.15"/><circle cx="53.14" cy="151.7" r="1.15"/><circle cx="53.97" cy="154.29" r="1.15"/><circle cx="55.04" cy="155.45" r="1.15"/><circle cx="56.23" cy="158.07" r="1.15"/><circle cx="56.56" cy="159.06" r="1.15"/><circle cx="57.09" cy="160.86" r="1.15"/><circle cx="54.94" cy="148.65" r="1.15"/><circle cx="55.62" cy="150.73" r="1.15"/><circle cx="56.74" cy="153.27" r="1.15"/><circle cx="57.71" cy="154.71" r="1.15"/><circle cx="58.16" cy="156.74" r="1.15"/><circle cx="58.91" cy="158.47" r="1.15"/><circle cx="59.38" cy="160.32" r="1.15"/><circle cx="61.07" cy="162.09" r="1.15"/><circle cx="58.3" cy="149.9" r="1.15"/><circle cx="59.45" cy="151.47" r="1.15"/><circle cx="59.64" cy="153.49" r="1.15"/><circle cx="60.56" cy="155.67" r="1.15"/><circle cx="61.9" cy="158.05" r="1.15"/><circle cx="62.6" cy="159.21" r="1.15"/><circle cx="62.55" cy="161.88" r="1.15"/><circle cx="64.2" cy="163.63" r="1.15"/><circle cx="61.59" cy="149.99" r="1.15"/><circle cx="62.08" cy="152.69" r="1.15"/><circle cx="63.2" cy="154.4" r="1.15"/><circle cx="64.03" cy="155.57" r="1.15"/><circle cx="63.86" cy="157.26" r="1.15"/><circle cx="64.96" cy="159.56" r="1.15"/><circle cx="66.07" cy="161.38" r="1.15"/><circle cx="66.46" cy="163.2" r="1.15"/><circle cx="66.96" cy="164.77" r="1.15"/><circle cx="64.24" cy="153.96" r="1.15"/><circle cx="65.35" cy="156.1" r="1.15"/><circle cx="66.68" cy="157.49" r="1.15"/><circle cx="67.08" cy="159.44" r="1.15"/><circle cx="68.5" cy="161.89" r="1.15"/><circle cx="68.9" cy="163.27" r="1.15"/><circle cx="70.22" cy="165.79" r="1.15"/><circle cx="67.79" cy="156.11" r="1.15"/><circle cx="68.92" cy="157.61" r="1.15"/><circle cx="69.53" cy="159.78" r="1.15"/><circle cx="71.11" cy="161.68" r="1.15"/><circle cx="71.95" cy="163.23" r="1.15"/><circle cx="72.22" cy="164.72" r="1.15"/><circle cx="73.86" cy="166.89" r="1.15"/><circle cx="70.91" cy="156.19" r="1.15"/><circle cx="72.01" cy="158.68" r="1.15"/><circle cx="72.85" cy="160.1" r="1.15"/><circle cx="74.02" cy="162.6" r="1.15"/><circle cx="74.49" cy="163.54" r="1.15"/><circle cx="75.52" cy="165.76" r="1.15"/><circle cx="76.78" cy="167.37" r="1.15"/><circle cx="74.6" cy="157.33" r="1.15"/><circle cx="75.22" cy="158.71" r="1.15"/><circle cx="76.6" cy="160.72" r="1.15"/><circle cx="77.37" cy="162.55" r="1.15"/><circle cx="77.69" cy="164.99" r="1.15"/><circle cx="78.68" cy="167.09" r="1.15"/><circle cx="79.8" cy="168.24" r="1.15"/><circle cx="77.22" cy="157.52" r="1.15"/><circle cx="78.58" cy="160.02" r="1.15"/><circle cx="78.98" cy="161.43" r="1.15"/><circle cx="79.96" cy="163.98" r="1.15"/><circle cx="80.81" cy="165.03" r="1.15"/><circle cx="81.64" cy="167.33" r="1.15"/><circle cx="83.4" cy="169.79" r="1.15"/><circle cx="80.93" cy="158.62" r="1.15"/><circle cx="81.92" cy="159.69" r="1.15"/><circle cx="81.96" cy="162.03" r="1.15"/><circle cx="83.3" cy="162.86" r="1.15"/><circle cx="84.01" cy="164.94" r="1.15"/><circle cx="84.5" cy="166.63" r="1.15"/><circle cx="85.08" cy="168.03" r="1.15"/><circle cx="85.98" cy="170.12" r="1.15"/><circle cx="84.36" cy="158.26" r="1.15"/><circle cx="85.15" cy="160.13" r="1.15"/><circle cx="85.33" cy="162.53" r="1.15"/><circle cx="86.58" cy="163.92" r="1.15"/><circle cx="86.59" cy="165.75" r="1.15"/><circle cx="87.7" cy="167.97" r="1.15"/><circle cx="88.31" cy="169.2" r="1.15"/><circle cx="89.8" cy="170.65" r="1.15"/><circle cx="87.01" cy="159.47" r="1.15"/><circle cx="88.15" cy="160.53" r="1.15"/><circle cx="88.21" cy="162.38" r="1.15"/><circle cx="89.88" cy="164.41" r="1.15"/><circle cx="90.49" cy="166.88" r="1.15"/><circle cx="90.87" cy="168.09" r="1.15"/><circle cx="92.27" cy="170.26" r="1.15"/><circle cx="92.36" cy="172.2" r="1.15"/><circle cx="90.12" cy="159.61" r="1.15"/><circle cx="90.59" cy="161.95" r="1.15"/><circle cx="92.29" cy="163.68" r="1.15"/><circle cx="93.1" cy="164.93" r="1.15"/><circle cx="93.18" cy="167.24" r="1.15"/><circle cx="94.69" cy="169.58" r="1.15"/><circle cx="94.9" cy="170.73" r="1.15"/><circle cx="95.73" cy="172.83" r="1.15"/><circle cx="93.93" cy="160.27" r="1.15"/><circle cx="94.59" cy="162.69" r="1.15"/><circle cx="95.39" cy="164.6" r="1.15"/><circle cx="95.96" cy="166.03" r="1.15"/><circle cx="96.46" cy="167.94" r="1.15"/><circle cx="97.71" cy="169.53" r="1.15"/><circle cx="97.91" cy="172.07" r="1.15"/><circle cx="98.75" cy="173.26" r="1.15"/><circle cx="96.23" cy="161.38" r="1.15"/><circle cx="97.31" cy="163.7" r="1.15"/><circle cx="98.65" cy="165.59" r="1.15"/><circle cx="98.82" cy="166.58" r="1.15"/><circle cx="99.44" cy="168.88" r="1.15"/><circle cx="100.84" cy="170.72" r="1.15"/><circle cx="101.15" cy="172.58" r="1.15"/><circle cx="102.32" cy="174.72" r="1.15"/><circle cx="100.15" cy="162.42" r="1.15"/><circle cx="100.85" cy="163.6" r="1.15"/><circle cx="101.81" cy="165.68" r="1.15"/><circle cx="102.32" cy="167.67" r="1.15"/><circle cx="103.28" cy="169.4" r="1.15"/><circle cx="103.58" cy="171.35" r="1.15"/><circle cx="104.27" cy="173.9" r="1.15"/><circle cx="105.48" cy="175.25" r="1.15"/><circle cx="103" cy="163.32" r="1.15"/><circle cx="103.89" cy="164.5" r="1.15"/><circle cx="104.98" cy="166.85" r="1.15"/><circle cx="105.95" cy="168.24" r="1.15"/><circle cx="106.22" cy="170.89" r="1.15"/><circle cx="107.37" cy="172.92" r="1.15"/><circle cx="107.35" cy="174.24" r="1.15"/><circle cx="108.22" cy="176.07" r="1.15"/><circle cx="106.77" cy="163.87" r="1.15"/><circle cx="107.52" cy="165.6" r="1.15"/><circle cx="108.24" cy="167.61" r="1.15"/><circle cx="108.42" cy="169.87" r="1.15"/><circle cx="109.89" cy="171.14" r="1.15"/><circle cx="110.32" cy="173.59" r="1.15"/><circle cx="110.73" cy="175.27" r="1.15"/><circle cx="111.44" cy="177.04" r="1.15"/><circle cx="109.25" cy="164.85" r="1.15"/><circle cx="110.44" cy="166.39" r="1.15"/><circle cx="110.58" cy="168.45" r="1.15"/><circle cx="112.04" cy="170.24" r="1.15"/><circle cx="112.46" cy="172.2" r="1.15"/><circle cx="113.72" cy="174.48" r="1.15"/><circle cx="113.78" cy="175.97" r="1.15"/><circle cx="114.9" cy="178.35" r="1.15"/><circle cx="112.84" cy="165.3" r="1.15"/><circle cx="113.15" cy="167.84" r="1.15"/><circle cx="114.18" cy="169.36" r="1.15"/><circle cx="114.86" cy="171.97" r="1.15"/><circle cx="115.66" cy="173.52" r="1.15"/><circle cx="116.49" cy="175.31" r="1.15"/><circle cx="117.78" cy="177.82" r="1.15"/><circle cx="118.06" cy="178.96" r="1.15"/><circle cx="116.13" cy="166.37" r="1.15"/><circle cx="116.19" cy="169.01" r="1.15"/><circle cx="117.4" cy="170.86" r="1.15"/><circle cx="118.16" cy="172.86" r="1.15"/><circle cx="119" cy="174.08" r="1.15"/><circle cx="119.34" cy="176.4" r="1.15"/><circle cx="120.75" cy="178.69" r="1.15"/><circle cx="120.99" cy="180.34" r="1.15"/><circle cx="118.97" cy="167.63" r="1.15"/><circle cx="119.53" cy="169.35" r="1.15"/><circle cx="120.69" cy="171.93" r="1.15"/><circle cx="121.07" cy="173.43" r="1.15"/><circle cx="122.55" cy="175.84" r="1.15"/><circle cx="122.73" cy="176.94" r="1.15"/><circle cx="124.26" cy="179.72" r="1.15"/><circle cx="124.58" cy="180.73" r="1.15"/><circle cx="122.73" cy="168.48" r="1.15"/><circle cx="123.49" cy="170.64" r="1.15"/><circle cx="124.2" cy="172.1" r="1.15"/><circle cx="124.94" cy="174.09" r="1.15"/><circle cx="125.35" cy="176.64" r="1.15"/><circle cx="126.56" cy="177.9" r="1.15"/><circle cx="126.73" cy="180.04" r="1.15"/><circle cx="127.82" cy="181.95" r="1.15"/><circle cx="125.12" cy="169.4" r="1.15"/><circle cx="126.51" cy="171.95" r="1.15"/><circle cx="126.61" cy="173.51" r="1.15"/><circle cx="128.11" cy="174.89" r="1.15"/><circle cx="128.98" cy="176.87" r="1.15"/><circle cx="129.53" cy="179.2" r="1.15"/><circle cx="130.34" cy="180.86" r="1.15"/><circle cx="130.92" cy="183.03" r="1.15"/><circle cx="128.63" cy="170.9" r="1.15"/><circle cx="129.43" cy="172.55" r="1.15"/><circle cx="129.79" cy="174.6" r="1.15"/><circle cx="131.05" cy="176.08" r="1.15"/><circle cx="132.11" cy="178.5" r="1.15"/><circle cx="132.59" cy="179.77" r="1.15"/><circle cx="133.39" cy="181.57" r="1.15"/><circle cx="133.83" cy="183.76" r="1.15"/><circle cx="131.49" cy="171.77" r="1.15"/><circle cx="132.7" cy="173.21" r="1.15"/><circle cx="133.61" cy="175.09" r="1.15"/><circle cx="134.49" cy="177.63" r="1.15"/><circle cx="135.05" cy="178.74" r="1.15"/><circle cx="135.83" cy="180.91" r="1.15"/><circle cx="137.07" cy="182.51" r="1.15"/><circle cx="137.76" cy="185.21" r="1.15"/><circle cx="135.33" cy="173.23" r="1.15"/><circle cx="135.58" cy="175.21" r="1.15"/><circle cx="136.66" cy="176.99" r="1.15"/><circle cx="137.87" cy="178.01" r="1.15"/><circle cx="138.53" cy="180.59" r="1.15"/><circle cx="138.59" cy="181.82" r="1.15"/><circle cx="140.07" cy="183.44" r="1.15"/><circle cx="141" cy="185.36" r="1.15"/><circle cx="138.62" cy="173.96" r="1.15"/><circle cx="139.09" cy="176.48" r="1.15"/><circle cx="139.58" cy="177.55" r="1.15"/><circle cx="140.66" cy="179.35" r="1.15"/><circle cx="140.98" cy="180.94" r="1.15"/><circle cx="141.89" cy="183.43" r="1.15"/><circle cx="143.19" cy="185.13" r="1.15"/><circle cx="143.47" cy="186.75" r="1.15"/></g><g fill="#3c3cc8"><circle cx="39.3" cy="110.9" r="1.25"/><circle cx="40.9" cy="114.7" r="1.25"/><circle cx="42.5" cy="118.5" r="1.25"/><circle cx="45.2" cy="102.8" r="1.25"/><circle cx="45.77" cy="105.67" r="1.25"/><circle cx="46.33" cy="108.53" r="1.25"/><circle cx="46.9" cy="111.4" r="1.25"/><circle cx="47.47" cy="114.27" r="1.25"/><circle cx="48.03" cy="117.13" r="1.25"/><circle cx="48.6" cy="120" r="1.25"/><circle cx="50.6" cy="105.5" r="1.25"/><circle cx="51.24" cy="108.52" r="1.25"/><circle cx="51.88" cy="111.54" r="1.25"/><circle cx="52.52" cy="114.56" r="1.25"/><circle cx="53.16" cy="117.58" r="1.25"/><circle cx="53.8" cy="120.6" r="1.25"/><circle cx="55.5" cy="108.2" r="1.25"/><circle cx="56.3" cy="111.3" r="1.25"/><circle cx="57.1" cy="114.4" r="1.25"/><circle cx="57.9" cy="117.5" r="1.25"/><circle cx="58.7" cy="120.6" r="1.25"/><circle cx="60.8" cy="112" r="1.25"/><circle cx="61.73" cy="115.33" r="1.25"/><circle cx="62.67" cy="118.67" r="1.25"/><circle cx="63.6" cy="122" r="1.25"/><circle cx="65.7" cy="113.6" r="1.25"/><circle cx="66.6" cy="116.57" r="1.25"/><circle cx="67.5" cy="119.53" r="1.25"/><circle cx="68.4" cy="122.5" r="1.25"/><circle cx="71.6" cy="119" r="1.25"/></g><g fill="#3c3cc8" opacity="1"><circle cx="41.88" cy="128.01" r="1.25"/><circle cx="43.54" cy="130.46" r="1.25"/><circle cx="45.11" cy="133.03" r="1.25"/><circle cx="46.52" cy="135.63" r="1.25"/><circle cx="47.08" cy="127.94" r="1.25"/><circle cx="48.74" cy="131.04" r="1.25"/><circle cx="50.29" cy="134.28" r="1.25"/><circle cx="51.85" cy="137.66" r="1.25"/><circle cx="52.36" cy="127.67" r="1.25"/><circle cx="53.51" cy="130.53" r="1.25"/><circle cx="54.72" cy="133.53" r="1.25"/><circle cx="55.87" cy="136.64" r="1.25"/><circle cx="56.94" cy="139.89" r="1.25"/><circle cx="57.63" cy="127.43" r="1.25"/><circle cx="58.44" cy="130.13" r="1.25"/><circle cx="59.26" cy="133.07" r="1.25"/><circle cx="60.33" cy="136.05" r="1.25"/><circle cx="61.2" cy="139.09" r="1.25"/><circle cx="61.99" cy="141.78" r="1.25"/><circle cx="62.85" cy="127.04" r="1.25"/><circle cx="63.4" cy="129.94" r="1.25"/><circle cx="64.18" cy="132.74" r="1.25"/><circle cx="64.97" cy="135.6" r="1.25"/><circle cx="65.83" cy="138.29" r="1.25"/><circle cx="66.59" cy="141.17" r="1.25"/><circle cx="67.19" cy="144.11" r="1.25"/><circle cx="67.92" cy="126.87" r="1.25"/><circle cx="68.52" cy="129.75" r="1.25"/><circle cx="69.4" cy="132.52" r="1.25"/><circle cx="69.9" cy="135.1" r="1.25"/><circle cx="70.42" cy="137.94" r="1.25"/><circle cx="71.23" cy="140.59" r="1.25"/><circle cx="71.9" cy="143.35" r="1.25"/><circle cx="72.63" cy="146.17" r="1.25"/><circle cx="73.12" cy="126.89" r="1.25"/><circle cx="73.63" cy="129.59" r="1.25"/><circle cx="74.3" cy="132.31" r="1.25"/><circle cx="74.76" cy="135.28" r="1.25"/><circle cx="75.3" cy="138.03" r="1.25"/><circle cx="76.14" cy="140.71" r="1.25"/><circle cx="76.48" cy="143.67" r="1.25"/><circle cx="77.14" cy="146.49" r="1.25"/><circle cx="77.79" cy="149.16" r="1.25"/><circle cx="78.34" cy="126.5" r="1.25"/><circle cx="78.76" cy="129.51" r="1.25"/><circle cx="79.48" cy="132.28" r="1.25"/><circle cx="79.75" cy="135.15" r="1.25"/><circle cx="80.47" cy="137.86" r="1.25"/><circle cx="80.97" cy="140.68" r="1.25"/><circle cx="81.32" cy="143.41" r="1.25"/><circle cx="81.82" cy="146.21" r="1.25"/><circle cx="82.35" cy="149.25" r="1.25"/><circle cx="82.96" cy="152.11" r="1.25"/><circle cx="83.66" cy="128.1" r="1.25"/><circle cx="84.12" cy="131.06" r="1.25"/><circle cx="84.69" cy="133.99" r="1.25"/><circle cx="85.03" cy="136.94" r="1.25"/><circle cx="85.74" cy="139.72" r="1.25"/><circle cx="86.21" cy="142.57" r="1.25"/><circle cx="86.53" cy="145.54" r="1.25"/><circle cx="87.17" cy="148.66" r="1.25"/><circle cx="87.67" cy="151.38" r="1.25"/><circle cx="88.21" cy="154.29" r="1.25"/></g><g fill="#3434d4" opacity="1"><circle cx="85.9" cy="129.45" r="1.15"/><circle cx="86.43" cy="131.54" r="1.15"/><circle cx="86.82" cy="133.83" r="1.15"/><circle cx="87.11" cy="135.96" r="1.15"/><circle cx="87.58" cy="138.14" r="1.15"/><circle cx="87.85" cy="140.27" r="1.15"/><circle cx="88.28" cy="142.28" r="1.15"/><circle cx="88.51" cy="144.58" r="1.15"/><circle cx="88.83" cy="146.88" r="1.15"/><circle cx="89.23" cy="148.7" r="1.15"/><circle cx="89.59" cy="151.24" r="1.15"/><circle cx="90.06" cy="153.1" r="1.15"/><circle cx="90.31" cy="155.24" r="1.15"/><circle cx="89.68" cy="131.01" r="1.15"/><circle cx="90.05" cy="133.23" r="1.15"/><circle cx="90.18" cy="135.34" r="1.15"/><circle cx="90.67" cy="137.61" r="1.15"/><circle cx="91.23" cy="139.81" r="1.15"/><circle cx="91.3" cy="141.98" r="1.15"/><circle cx="92.02" cy="144.18" r="1.15"/><circle cx="92.07" cy="146.06" r="1.15"/><circle cx="92.44" cy="148.17" r="1.15"/><circle cx="93.11" cy="150.66" r="1.15"/><circle cx="93.4" cy="152.84" r="1.15"/><circle cx="93.78" cy="154.8" r="1.15"/><circle cx="93.94" cy="156.9" r="1.15"/><circle cx="93.3" cy="132.51" r="1.15"/><circle cx="93.5" cy="134.8" r="1.15"/><circle cx="93.76" cy="136.94" r="1.15"/><circle cx="94.24" cy="139.33" r="1.15"/><circle cx="94.65" cy="141.37" r="1.15"/><circle cx="95.26" cy="143.65" r="1.15"/><circle cx="95.59" cy="145.9" r="1.15"/><circle cx="95.64" cy="148.02" r="1.15"/><circle cx="96.17" cy="150.37" r="1.15"/><circle cx="96.51" cy="152.54" r="1.15"/><circle cx="96.97" cy="154.55" r="1.15"/><circle cx="97.47" cy="156.7" r="1.15"/><circle cx="97.83" cy="158.94" r="1.15"/><circle cx="96.6" cy="134.25" r="1.15"/><circle cx="97.28" cy="136.79" r="1.15"/><circle cx="97.35" cy="138.82" r="1.15"/><circle cx="97.92" cy="141.17" r="1.15"/><circle cx="98.17" cy="143.27" r="1.15"/><circle cx="98.61" cy="145.63" r="1.15"/><circle cx="98.95" cy="147.9" r="1.15"/><circle cx="99.34" cy="149.84" r="1.15"/><circle cx="99.88" cy="152.18" r="1.15"/><circle cx="100.02" cy="154.46" r="1.15"/><circle cx="100.38" cy="156.75" r="1.15"/><circle cx="101" cy="158.97" r="1.15"/><circle cx="101.35" cy="161.03" r="1.15"/><circle cx="100.36" cy="136.09" r="1.15"/><circle cx="100.93" cy="138.21" r="1.15"/><circle cx="101.31" cy="140.44" r="1.15"/><circle cx="101.41" cy="142.78" r="1.15"/><circle cx="102.06" cy="145.12" r="1.15"/><circle cx="102.23" cy="147.52" r="1.15"/><circle cx="102.54" cy="149.6" r="1.15"/><circle cx="103.04" cy="151.96" r="1.15"/><circle cx="103.5" cy="154.17" r="1.15"/><circle cx="103.71" cy="156.29" r="1.15"/><circle cx="104.01" cy="158.74" r="1.15"/><circle cx="104.59" cy="160.95" r="1.15"/><circle cx="104.77" cy="163.07" r="1.15"/><circle cx="104.11" cy="137.93" r="1.15"/><circle cx="104.23" cy="140.15" r="1.15"/><circle cx="104.9" cy="142.32" r="1.15"/><circle cx="105" cy="144.61" r="1.15"/><circle cx="105.58" cy="147.09" r="1.15"/><circle cx="105.74" cy="149.08" r="1.15"/><circle cx="106.15" cy="151.42" r="1.15"/><circle cx="106.63" cy="153.62" r="1.15"/><circle cx="106.93" cy="155.89" r="1.15"/><circle cx="107.57" cy="158.37" r="1.15"/><circle cx="107.59" cy="160.73" r="1.15"/><circle cx="107.97" cy="162.77" r="1.15"/><circle cx="108.69" cy="165.19" r="1.15"/></g><g stroke="#2a2ae0" stroke-width="1" stroke-linecap="round" opacity="1"><line x1="106" y1="138.87" x2="110" y2="165.65"/><line x1="108.6" y1="140.18" x2="112.6" y2="166.65"/><line x1="111.2" y1="141.74" x2="115.2" y2="167.65"/><line x1="113.8" y1="143.29" x2="117.8" y2="168.65"/><line x1="116.4" y1="144.85" x2="120.4" y2="169.63"/></g><g fill="#2a2ae0" opacity="1"><circle cx="106.16" cy="138.83" r="1.15"/><circle cx="106.05" cy="140.76" r="1.15"/><circle cx="106.26" cy="142.24" r="1.15"/><circle cx="106.72" cy="143.9" r="1.15"/><circle cx="107" cy="146.22" r="1.15"/><circle cx="107.47" cy="147.8" r="1.15"/><circle cx="107.69" cy="149.56" r="1.15"/><circle cx="107.62" cy="151.44" r="1.15"/><circle cx="108.07" cy="153.33" r="1.15"/><circle cx="108.69" cy="154.89" r="1.15"/><circle cx="108.72" cy="156.9" r="1.15"/><circle cx="108.88" cy="158.32" r="1.15"/><circle cx="109.36" cy="160.56" r="1.15"/><circle cx="109.66" cy="162.22" r="1.15"/><circle cx="109.98" cy="163.99" r="1.15"/><circle cx="110.1" cy="165.62" r="1.15"/><circle cx="108.47" cy="140.27" r="1.15"/><circle cx="108.6" cy="142.01" r="1.15"/><circle cx="109.37" cy="144.11" r="1.15"/><circle cx="109.55" cy="145.68" r="1.15"/><circle cx="109.69" cy="147.71" r="1.15"/><circle cx="110.11" cy="149.57" r="1.15"/><circle cx="110.44" cy="151.83" r="1.15"/><circle cx="110.38" cy="153.52" r="1.15"/><circle cx="111.08" cy="155.23" r="1.15"/><circle cx="111.16" cy="157.53" r="1.15"/><circle cx="111.13" cy="159.12" r="1.15"/><circle cx="111.51" cy="161.18" r="1.15"/><circle cx="112.34" cy="162.89" r="1.15"/><circle cx="112.04" cy="164.82" r="1.15"/><circle cx="112.63" cy="166.81" r="1.15"/><circle cx="111.21" cy="141.83" r="1.15"/><circle cx="111.72" cy="143.6" r="1.15"/><circle cx="111.71" cy="145.75" r="1.15"/><circle cx="111.85" cy="147.42" r="1.15"/><circle cx="112.27" cy="149.32" r="1.15"/><circle cx="112.36" cy="151.33" r="1.15"/><circle cx="112.81" cy="152.53" r="1.15"/><circle cx="113.04" cy="154.62" r="1.15"/><circle cx="113.15" cy="156.49" r="1.15"/><circle cx="113.72" cy="158.54" r="1.15"/><circle cx="113.95" cy="160.08" r="1.15"/><circle cx="114.15" cy="162.27" r="1.15"/><circle cx="114.94" cy="163.97" r="1.15"/><circle cx="114.72" cy="166.01" r="1.15"/><circle cx="115.12" cy="167.45" r="1.15"/><circle cx="113.54" cy="143.48" r="1.15"/><circle cx="114.3" cy="145.2" r="1.15"/><circle cx="114.35" cy="146.96" r="1.15"/><circle cx="114.47" cy="149.05" r="1.15"/><circle cx="114.84" cy="150.63" r="1.15"/><circle cx="115.45" cy="152.57" r="1.15"/><circle cx="115.49" cy="154.02" r="1.15"/><circle cx="115.83" cy="155.71" r="1.15"/><circle cx="116.32" cy="157.68" r="1.15"/><circle cx="116.62" cy="159.43" r="1.15"/><circle cx="116.57" cy="161.23" r="1.15"/><circle cx="116.89" cy="163" r="1.15"/><circle cx="116.88" cy="165.19" r="1.15"/><circle cx="117.36" cy="166.66" r="1.15"/><circle cx="117.66" cy="168.64" r="1.15"/><circle cx="116.35" cy="144.94" r="1.15"/><circle cx="116.82" cy="146.66" r="1.15"/><circle cx="117.32" cy="148.91" r="1.15"/><circle cx="117.01" cy="150.79" r="1.15"/><circle cx="117.91" cy="152.67" r="1.15"/><circle cx="117.69" cy="154.61" r="1.15"/><circle cx="118.34" cy="155.94" r="1.15"/><circle cx="118.21" cy="158.51" r="1.15"/><circle cx="118.97" cy="159.92" r="1.15"/><circle cx="118.89" cy="161.75" r="1.15"/><circle cx="119.29" cy="164.1" r="1.15"/><circle cx="119.68" cy="165.57" r="1.15"/><circle cx="120.38" cy="167.92" r="1.15"/><circle cx="120.17" cy="169.9" r="1.15"/></g><g stroke="#2020e8" stroke-width="1.7" stroke-linecap="round" opacity="1"><line x1="119" y1="146.4" x2="123" y2="170.45"/><line x1="121.2" y1="147.91" x2="125.2" y2="171.15"/><line x1="123.4" y1="149.58" x2="127.4" y2="171.85"/><line x1="125.6" y1="151.24" x2="129.6" y2="172.54"/><line x1="127.8" y1="152.91" x2="131.8" y2="173.24"/><line x1="130" y1="154.45" x2="134" y2="173.94"/><line x1="132.2" y1="155.53" x2="136.2" y2="174.88"/><line x1="134.4" y1="156.62" x2="138.4" y2="175.84"/><line x1="136.6" y1="157.7" x2="140.6" y2="176.81"/><line x1="138.8" y1="164.21" x2="142.8" y2="177.78"/><line x1="141" y1="166.29" x2="145" y2="178.74"/><line x1="143.2" y1="167.93" x2="147.2" y2="179.71"/><line x1="145.4" y1="171.24" x2="149.4" y2="180.5"/></g><g fill="#2020e8" opacity="1"><circle cx="119.08" cy="146.6" r="1.15"/><circle cx="119.37" cy="148.18" r="1.15"/><circle cx="119.7" cy="149.64" r="1.15"/><circle cx="119.54" cy="151.05" r="1.15"/><circle cx="120.02" cy="152.58" r="1.15"/><circle cx="120.21" cy="154.18" r="1.15"/><circle cx="120.54" cy="155.26" r="1.15"/><circle cx="120.56" cy="156.67" r="1.15"/><circle cx="121" cy="158.12" r="1.15"/><circle cx="121.23" cy="159.68" r="1.15"/><circle cx="121.49" cy="161.43" r="1.15"/><circle cx="121.78" cy="163.19" r="1.15"/><circle cx="121.65" cy="164.68" r="1.15"/><circle cx="122.23" cy="165.99" r="1.15"/><circle cx="122.62" cy="167.68" r="1.15"/><circle cx="122.66" cy="168.89" r="1.15"/><circle cx="123.32" cy="170.15" r="1.15"/><circle cx="121.3" cy="148" r="1.15"/><circle cx="121.14" cy="149.54" r="1.15"/><circle cx="121.86" cy="151.31" r="1.15"/><circle cx="121.88" cy="152.89" r="1.15"/><circle cx="122.27" cy="154.1" r="1.15"/><circle cx="122.81" cy="155.33" r="1.15"/><circle cx="122.95" cy="157.29" r="1.15"/><circle cx="122.95" cy="159.01" r="1.15"/><circle cx="123.24" cy="160.29" r="1.15"/><circle cx="123.62" cy="162.04" r="1.15"/><circle cx="123.66" cy="163.36" r="1.15"/><circle cx="124.08" cy="164.99" r="1.15"/><circle cx="124.63" cy="166.36" r="1.15"/><circle cx="124.9" cy="167.98" r="1.15"/><circle cx="124.94" cy="169.44" r="1.15"/><circle cx="125.2" cy="171.48" r="1.15"/><circle cx="123.51" cy="149.78" r="1.15"/><circle cx="123.55" cy="150.93" r="1.15"/><circle cx="123.79" cy="152.61" r="1.15"/><circle cx="124.29" cy="154.23" r="1.15"/><circle cx="124.14" cy="155.67" r="1.15"/><circle cx="125" cy="157.03" r="1.15"/><circle cx="124.68" cy="158.34" r="1.15"/><circle cx="124.92" cy="159.75" r="1.15"/><circle cx="125.83" cy="161.53" r="1.15"/><circle cx="125.91" cy="163.14" r="1.15"/><circle cx="126.35" cy="164.5" r="1.15"/><circle cx="126.42" cy="166" r="1.15"/><circle cx="126.74" cy="167.46" r="1.15"/><circle cx="126.99" cy="168.67" r="1.15"/><circle cx="127.25" cy="170.33" r="1.15"/><circle cx="127.58" cy="171.57" r="1.15"/><circle cx="125.38" cy="150.92" r="1.15"/><circle cx="126.08" cy="153.06" r="1.15"/><circle cx="126.28" cy="154.19" r="1.15"/><circle cx="126.68" cy="156.01" r="1.15"/><circle cx="126.79" cy="157.16" r="1.15"/><circle cx="126.89" cy="158.8" r="1.15"/><circle cx="127.19" cy="160.32" r="1.15"/><circle cx="127.7" cy="162.2" r="1.15"/><circle cx="127.57" cy="163.46" r="1.15"/><circle cx="127.85" cy="164.67" r="1.15"/><circle cx="128.67" cy="166.51" r="1.15"/><circle cx="129.04" cy="167.94" r="1.15"/><circle cx="128.69" cy="169.42" r="1.15"/><circle cx="129.38" cy="171.33" r="1.15"/><circle cx="129.94" cy="172.53" r="1.15"/><circle cx="127.74" cy="152.63" r="1.15"/><circle cx="128.21" cy="154.27" r="1.15"/><circle cx="128.17" cy="155.7" r="1.15"/><circle cx="128.38" cy="157.73" r="1.15"/><circle cx="128.77" cy="159.49" r="1.15"/><circle cx="129.05" cy="160.99" r="1.15"/><circle cx="129.39" cy="161.96" r="1.15"/><circle cx="130.11" cy="163.68" r="1.15"/><circle cx="130.43" cy="165.2" r="1.15"/><circle cx="130.25" cy="167.18" r="1.15"/><circle cx="131.03" cy="168.8" r="1.15"/><circle cx="131.35" cy="169.82" r="1.15"/><circle cx="131.58" cy="171.82" r="1.15"/><circle cx="131.77" cy="173.54" r="1.15"/><circle cx="129.83" cy="154.77" r="1.15"/><circle cx="130.46" cy="155.6" r="1.15"/><circle cx="130.28" cy="157.55" r="1.15"/><circle cx="131.15" cy="158.65" r="1.15"/><circle cx="131.1" cy="160.6" r="1.15"/><circle cx="131.3" cy="162.2" r="1.15"/><circle cx="131.84" cy="163.13" r="1.15"/><circle cx="132.06" cy="164.99" r="1.15"/><circle cx="132.42" cy="166.56" r="1.15"/><circle cx="132.52" cy="168.15" r="1.15"/><circle cx="132.98" cy="169.54" r="1.15"/><circle cx="133.48" cy="170.88" r="1.15"/><circle cx="133.61" cy="172.64" r="1.15"/><circle cx="134.31" cy="174.14" r="1.15"/><circle cx="132.25" cy="155.39" r="1.15"/><circle cx="132.2" cy="157.35" r="1.15"/><circle cx="132.96" cy="158.74" r="1.15"/><circle cx="133.01" cy="160.07" r="1.15"/><circle cx="133.76" cy="161.72" r="1.15"/><circle cx="133.81" cy="162.84" r="1.15"/><circle cx="134" cy="164.73" r="1.15"/><circle cx="134.27" cy="166.08" r="1.15"/><circle cx="134.73" cy="167.71" r="1.15"/><circle cx="135.18" cy="168.77" r="1.15"/><circle cx="134.93" cy="170.25" r="1.15"/><circle cx="135.53" cy="171.96" r="1.15"/><circle cx="136.11" cy="173.66" r="1.15"/><circle cx="135.88" cy="175.11" r="1.15"/><circle cx="134.62" cy="156.87" r="1.15"/><circle cx="134.76" cy="157.94" r="1.15"/><circle cx="135.26" cy="159.79" r="1.15"/><circle cx="135.45" cy="161.34" r="1.15"/><circle cx="135.52" cy="162.24" r="1.15"/><circle cx="135.98" cy="164.22" r="1.15"/><circle cx="136.04" cy="165.67" r="1.15"/><circle cx="136.86" cy="166.78" r="1.15"/><circle cx="136.94" cy="168.57" r="1.15"/><circle cx="137.14" cy="169.72" r="1.15"/><circle cx="137.31" cy="171.58" r="1.15"/><circle cx="137.99" cy="172.86" r="1.15"/><circle cx="137.8" cy="174.58" r="1.15"/><circle cx="138.59" cy="175.66" r="1.15"/><circle cx="136.66" cy="157.98" r="1.15"/><circle cx="137.18" cy="159.19" r="1.15"/><circle cx="137.2" cy="160.7" r="1.15"/><circle cx="137.31" cy="161.89" r="1.15"/><circle cx="137.61" cy="163.72" r="1.15"/><circle cx="138.04" cy="165.1" r="1.15"/><circle cx="138.38" cy="166.53" r="1.15"/><circle cx="138.51" cy="167.67" r="1.15"/><circle cx="139.41" cy="169.37" r="1.15"/><circle cx="139.09" cy="171.02" r="1.15"/><circle cx="139.88" cy="172.16" r="1.15"/><circle cx="140.05" cy="173.76" r="1.15"/><circle cx="140.31" cy="175.01" r="1.15"/><circle cx="140.27" cy="177.15" r="1.15"/><circle cx="139.06" cy="164.2" r="1.15"/><circle cx="139.29" cy="165.55" r="1.15"/><circle cx="139.88" cy="167.17" r="1.15"/><circle cx="140.45" cy="168.92" r="1.15"/><circle cx="140.8" cy="170.56" r="1.15"/><circle cx="140.85" cy="171.42" r="1.15"/><circle cx="141.26" cy="173.03" r="1.15"/><circle cx="141.62" cy="174.45" r="1.15"/><circle cx="142.4" cy="176.53" r="1.15"/><circle cx="142.77" cy="178.09" r="1.15"/><circle cx="141.29" cy="165.98" r="1.15"/><circle cx="141.57" cy="167.77" r="1.15"/><circle cx="141.73" cy="169.72" r="1.15"/><circle cx="142.33" cy="171" r="1.15"/><circle cx="143.1" cy="172.84" r="1.15"/><circle cx="143.62" cy="174" r="1.15"/><circle cx="143.96" cy="175.39" r="1.15"/><circle cx="144.83" cy="177.53" r="1.15"/><circle cx="144.81" cy="178.42" r="1.15"/><circle cx="143.03" cy="167.82" r="1.15"/><circle cx="143.98" cy="169.68" r="1.15"/><circle cx="144.44" cy="170.56" r="1.15"/><circle cx="144.9" cy="172.49" r="1.15"/><circle cx="145.3" cy="174.16" r="1.15"/><circle cx="145.39" cy="175.04" r="1.15"/><circle cx="146.38" cy="177.07" r="1.15"/><circle cx="146.82" cy="178.1" r="1.15"/><circle cx="147.26" cy="179.89" r="1.15"/><circle cx="145.12" cy="171.12" r="1.15"/><circle cx="145.9" cy="172.52" r="1.15"/><circle cx="146.72" cy="174.09" r="1.15"/><circle cx="147.22" cy="175.62" r="1.15"/><circle cx="148.19" cy="177.07" r="1.15"/><circle cx="148.89" cy="178.74" r="1.15"/><circle cx="149.08" cy="180.8" r="1.15"/></g><path d="M124.5,155.5 L129,155.8 L133,159 L135,163 L131,164 L127,162 L124.5,159.5 Z" fill="#ffffff"/><path d="M132,168.5 L138.5,168.8 L139.5,170.8 L133.5,171 Z" fill="#ffffff"/><path d="M32.2,148 C24,142 20,130 22.5,120 C25,111 30,106.5 36.5,104" fill="none" stroke="#0a0a0a" stroke-width="2.1" stroke-linecap="round"/><polygon points="41,100.6 38.17,108.43 36.86,104.07 32.8,102.03" fill="#0a0a0a"/><path d="M79.7,166 C71,161.5 67,154 68.3,147 C69.5,140.5 74,136.5 80.5,134.2" fill="none" stroke="#0a0a0a" stroke-width="2.1" stroke-linecap="round"/><polygon points="84.8,130.6 82.2,137.77 81.01,133.78 77.28,131.91" fill="#0a0a0a"/><path d="M121.7,177.5 C116.5,175.5 114.5,170.5 115.2,166.5 C116,163 118,161 120.8,160.2" fill="none" stroke="#ffffff" stroke-width="3.2" stroke-linecap="round" opacity="0.8"/><path d="M121.7,177.5 C116.5,175.5 114.5,170.5 115.2,166.5 C116,163 118,161 120.8,160.2" fill="none" stroke="#0a0a0a" stroke-width="2.1" stroke-linecap="round"/><polygon points="123.6,158.1 121.56,163.75 120.61,160.61 117.68,159.13" fill="#0a0a0a"/><text x="70" y="108.8" font-size="12.3" font-weight="bold" fill="#0a0a0a" text-anchor="start" textLength="70.8" lengthAdjust="spacingAndGlyphs" >Re-optimize</text><rect x="335.2" y="85" width="154.5" height="125" fill="#efefef"/><rect x="336.6" y="86.4" width="151.7" height="122.2" fill="none" stroke="#fafafa" stroke-width="0.8"/><path d="M334.2,85 L490.7,85" stroke="#a8a8a8" stroke-width="1.7" fill="none"/><path d="M335.2,85.5 L335.2,210 L489.7,210 L489.7,85.5" stroke="#7b7b7b" stroke-width="1.7" fill="none" stroke-linejoin="round"/><polygon points="343.5,180.9 411.6,160.4 411.6,84.4 343.5,104.9" fill="#ffffff" stroke="none" stroke-width="1" /><polygon points="411.6,160.4 480,180 480,104 411.6,84.4" fill="#ffffff" stroke="none" stroke-width="1" /><polygon points="343.5,180.9 411.9,200.5 480,180 411.6,160.4" fill="#ffffff" stroke="none" stroke-width="1" /><line x1="343.5" y1="142.9" x2="411.6" y2="122.4" stroke="#e4e4e4" stroke-width="0.6" /><line x1="411.6" y1="122.4" x2="480" y2="142" stroke="#e4e4e4" stroke-width="0.6" /><line x1="377.55" y1="170.65" x2="377.55" y2="94.65" stroke="#e4e4e4" stroke-width="0.6" /><line x1="445.95" y1="190.25" x2="377.55" y2="170.65" stroke="#e4e4e4" stroke-width="0.6" /><line x1="445.8" y1="170.2" x2="445.8" y2="94.2" stroke="#e4e4e4" stroke-width="0.6" /><line x1="377.7" y1="190.7" x2="445.8" y2="170.2" stroke="#e4e4e4" stroke-width="0.6" /><line x1="411.6" y1="160.4" x2="411.6" y2="84.4" stroke="#e4e4e4" stroke-width="0.6" /><line x1="343.5" y1="104.9" x2="343.5" y2="180.9" stroke="#a0a0a0" stroke-width="0.8" /><line x1="343.5" y1="142.9" x2="345" y2="142.5" stroke="#8c8c8c" stroke-width="0.6" /><line x1="343.5" y1="180.9" x2="411.9" y2="200.5" stroke="#9c9c9c" stroke-width="0.8" /><line x1="411.9" y1="200.5" x2="480" y2="180" stroke="#9c9c9c" stroke-width="0.8" /><text x="338.3" y="188.4" font-size="6.1" font-weight="normal" fill="#2e2e2e" text-anchor="middle" textLength="5.97" lengthAdjust="spacingAndGlyphs" >40</text><text x="371.7" y="198.4" font-size="6.1" font-weight="normal" fill="#2e2e2e" text-anchor="middle" textLength="5.97" lengthAdjust="spacingAndGlyphs" >20</text><text x="407.1" y="207.5" font-size="6.1" font-weight="normal" fill="#2e2e2e" text-anchor="middle" textLength="2.98" lengthAdjust="spacingAndGlyphs" >0</text><text x="416.4" y="208" font-size="6.1" font-weight="normal" fill="#2e2e2e" text-anchor="middle" textLength="2.98" lengthAdjust="spacingAndGlyphs" >0</text><text x="452.3" y="198.4" font-size="6.1" font-weight="normal" fill="#2e2e2e" text-anchor="middle" textLength="5.97" lengthAdjust="spacingAndGlyphs" >20</text><text x="485.2" y="188.4" font-size="6.1" font-weight="normal" fill="#2e2e2e" text-anchor="middle" textLength="5.97" lengthAdjust="spacingAndGlyphs" >40</text><text x="356.8" y="206" font-size="6.4" font-weight="normal" fill="#2a2a2a" text-anchor="start" letter-spacing="-0.12"><tspan font-size="4.2" dy="-3.1">2</tspan><tspan dy="3.1">D (s)</tspan></text><text x="445" y="206" font-size="6.4" font-weight="normal" fill="#2a2a2a" text-anchor="start" letter-spacing="-0.2"><tspan font-size="4.2" dy="-3.1">1</tspan><tspan dy="3.1">D (min)</tspan></text><linearGradient id="g1" gradientUnits="userSpaceOnUse" x1="0" y1="169" x2="0" y2="182"><stop offset="0" stop-color="#4750f0"/><stop offset="0.1" stop-color="#464be9"/><stop offset="0.2" stop-color="#4547e1"/><stop offset="0.3" stop-color="#4443da"/><stop offset="0.4" stop-color="#433fd3"/><stop offset="0.5" stop-color="#423bcc"/><stop offset="0.6" stop-color="#4137c5"/><stop offset="0.7" stop-color="#4132be"/><stop offset="0.8" stop-color="#402eb6"/><stop offset="0.9" stop-color="#3f2aaf"/><stop offset="1" stop-color="#3e26a8"/></linearGradient><polygon points="353.5,169 353.5,170.08 353.5,171.17 353.5,172.25 353.49,173.33 353.48,174.42 353.46,175.5 353.43,176.58 353.38,177.67 353.31,178.75 353.21,179.83 353.08,180.92 352.9,182 354.52,182 354.38,180.92 354.27,179.83 354.19,178.75 354.13,177.67 354.1,176.58 354.07,175.5 354.05,174.42 354.05,173.33 354.04,172.25 354.04,171.17 354.04,170.08 354.04,169" fill="url(#g1)" opacity="0.3"/><linearGradient id="g2" gradientUnits="userSpaceOnUse" x1="0" y1="106.4" x2="0" y2="181.5"><stop offset="0" stop-color="#f7f512"/><stop offset="0.1" stop-color="#fad42a"/><stop offset="0.2" stop-color="#9bc746"/><stop offset="0.3" stop-color="#2bc1ab"/><stop offset="0.4" stop-color="#1db8c2"/><stop offset="0.5" stop-color="#12afd7"/><stop offset="0.6" stop-color="#1ba1e2"/><stop offset="0.7" stop-color="#2d87f7"/><stop offset="0.8" stop-color="#4556f4"/><stop offset="0.9" stop-color="#433ed2"/><stop offset="1" stop-color="#3e26a8"/></linearGradient><polygon points="367.45,106.4 367.45,112.66 367.45,118.92 367.45,125.18 367.43,131.43 367.41,137.69 367.37,143.95 367.31,150.21 367.2,156.47 367.05,162.72 366.85,168.98 366.57,175.24 366.2,181.5 369.08,181.5 368.79,175.24 368.56,168.98 368.4,162.72 368.28,156.47 368.2,150.21 368.14,143.95 368.11,137.69 368.09,131.43 368.08,125.18 368.08,118.92 368.08,112.66 368.08,106.4" fill="url(#g2)" opacity="0.92"/><linearGradient id="g3" gradientUnits="userSpaceOnUse" x1="0" y1="144.5" x2="0" y2="188"><stop offset="0" stop-color="#1ab6c7"/><stop offset="0.1" stop-color="#12b2d4"/><stop offset="0.2" stop-color="#16aadb"/><stop offset="0.3" stop-color="#1ba2e2"/><stop offset="0.4" stop-color="#219ae8"/><stop offset="0.5" stop-color="#2f82f7"/><stop offset="0.6" stop-color="#3d66f5"/><stop offset="0.7" stop-color="#4750f0"/><stop offset="0.8" stop-color="#4442d8"/><stop offset="0.9" stop-color="#4134c0"/><stop offset="1" stop-color="#3e26a8"/></linearGradient><polygon points="388.05,144.5 388.05,148.12 388.05,151.75 388.04,155.38 388.03,159 388.01,162.62 387.96,166.25 387.88,169.88 387.76,173.5 387.59,177.12 387.35,180.75 387.03,184.38 386.6,188 389.84,188 389.5,184.38 389.24,180.75 389.05,177.12 388.91,173.5 388.81,169.88 388.75,166.25 388.71,162.62 388.69,159 388.68,155.38 388.68,151.75 388.68,148.12 388.68,144.5" fill="url(#g3)" opacity="0.92"/><linearGradient id="g4" gradientUnits="userSpaceOnUse" x1="0" y1="157.4" x2="0" y2="187"><stop offset="0" stop-color="#1ca1e3"/><stop offset="0.1" stop-color="#209be7"/><stop offset="0.2" stop-color="#298df2"/><stop offset="0.3" stop-color="#337bf6"/><stop offset="0.4" stop-color="#3c68f5"/><stop offset="0.5" stop-color="#4555f4"/><stop offset="0.6" stop-color="#464ce9"/><stop offset="0.7" stop-color="#4442d9"/><stop offset="0.8" stop-color="#4239c9"/><stop offset="0.9" stop-color="#402fb8"/><stop offset="1" stop-color="#3e26a8"/></linearGradient><polygon points="396.85,157.4 396.85,159.87 396.85,162.33 396.84,164.8 396.83,167.27 396.81,169.73 396.76,172.2 396.68,174.67 396.56,177.13 396.39,179.6 396.15,182.07 395.83,184.53 395.4,187 398.64,187 398.3,184.53 398.04,182.07 397.85,179.6 397.71,177.13 397.61,174.67 397.55,172.2 397.51,169.73 397.49,167.27 397.48,164.8 397.48,162.33 397.48,159.87 397.48,157.4" fill="url(#g4)" opacity="0.92"/><linearGradient id="g5" gradientUnits="userSpaceOnUse" x1="0" y1="175.6" x2="0" y2="184.5"><stop offset="0" stop-color="#4442d9"/><stop offset="0.1" stop-color="#4340d4"/><stop offset="0.2" stop-color="#433dcf"/><stop offset="0.3" stop-color="#423aca"/><stop offset="0.4" stop-color="#4137c6"/><stop offset="0.5" stop-color="#4134c1"/><stop offset="0.6" stop-color="#4031bc"/><stop offset="0.7" stop-color="#402fb7"/><stop offset="0.8" stop-color="#3f2cb2"/><stop offset="0.9" stop-color="#3f29ad"/><stop offset="1" stop-color="#3e26a8"/></linearGradient><polygon points="406.45,175.6 406.45,176.34 406.45,177.08 406.45,177.82 406.43,178.57 406.41,179.31 406.37,180.05 406.31,180.79 406.2,181.53 406.05,182.28 405.85,183.02 405.57,183.76 405.2,184.5 408.08,184.5 407.79,183.76 407.56,183.02 407.4,182.28 407.28,181.53 407.2,180.79 407.14,180.05 407.11,179.31 407.09,178.57 407.08,177.82 407.08,177.08 407.08,176.34 407.08,175.6" fill="url(#g5)" opacity="0.92"/><linearGradient id="g6" gradientUnits="userSpaceOnUse" x1="0" y1="143.8" x2="0" y2="177.5"><stop offset="0" stop-color="#17a8dd"/><stop offset="0.1" stop-color="#1ba2e2"/><stop offset="0.2" stop-color="#1f9ce7"/><stop offset="0.3" stop-color="#298df3"/><stop offset="0.4" stop-color="#3478f6"/><stop offset="0.5" stop-color="#3f62f5"/><stop offset="0.6" stop-color="#4751f3"/><stop offset="0.7" stop-color="#4546e0"/><stop offset="0.8" stop-color="#423ccd"/><stop offset="0.9" stop-color="#4031bb"/><stop offset="1" stop-color="#3e26a8"/></linearGradient><polygon points="416.65,143.8 416.65,146.61 416.65,149.42 416.64,152.23 416.63,155.03 416.59,157.84 416.53,160.65 416.44,163.46 416.28,166.27 416.06,169.07 415.76,171.88 415.34,174.69 414.8,177.5 418.76,177.5 418.32,174.69 417.99,171.88 417.75,169.07 417.57,166.27 417.45,163.46 417.37,160.65 417.32,157.84 417.3,155.03 417.29,152.23 417.28,149.42 417.28,146.61 417.28,143.8" fill="url(#g6)" opacity="0.92"/><linearGradient id="g7" gradientUnits="userSpaceOnUse" x1="0" y1="112.4" x2="0" y2="176.5"><stop offset="0" stop-color="#e4c438"/><stop offset="0.1" stop-color="#70c869"/><stop offset="0.2" stop-color="#28bfb0"/><stop offset="0.3" stop-color="#1db8c3"/><stop offset="0.4" stop-color="#11b1d6"/><stop offset="0.5" stop-color="#19a5df"/><stop offset="0.6" stop-color="#2297ea"/><stop offset="0.7" stop-color="#3772f6"/><stop offset="0.8" stop-color="#464fef"/><stop offset="0.9" stop-color="#423bcb"/><stop offset="1" stop-color="#3e26a8"/></linearGradient><polygon points="423.85,112.4 423.85,117.74 423.85,123.08 423.84,128.43 423.83,133.77 423.81,139.11 423.76,144.45 423.68,149.79 423.56,155.13 423.39,160.47 423.15,165.82 422.83,171.16 422.4,176.5 425.64,176.5 425.3,171.16 425.04,165.82 424.85,160.47 424.71,155.13 424.61,149.79 424.55,144.45 424.51,139.11 424.49,133.77 424.48,128.43 424.48,123.08 424.48,117.74 424.48,112.4" fill="url(#g7)" opacity="0.92"/><linearGradient id="g8" gradientUnits="userSpaceOnUse" x1="0" y1="113.9" x2="0" y2="185.5"><stop offset="0" stop-color="#f5ec17"/><stop offset="0.1" stop-color="#eac438"/><stop offset="0.2" stop-color="#69c86f"/><stop offset="0.3" stop-color="#26beb3"/><stop offset="0.4" stop-color="#19b6c9"/><stop offset="0.5" stop-color="#14acda"/><stop offset="0.6" stop-color="#1d9fe4"/><stop offset="0.7" stop-color="#3080f7"/><stop offset="0.8" stop-color="#4654f4"/><stop offset="0.9" stop-color="#433dd0"/><stop offset="1" stop-color="#3e26a8"/></linearGradient><polygon points="429.45,113.9 429.45,119.87 429.45,125.83 429.44,131.8 429.43,137.77 429.41,143.73 429.36,149.7 429.28,155.67 429.16,161.63 428.99,167.6 428.75,173.57 428.43,179.53 428,185.5 431.24,185.5 430.9,179.53 430.64,173.57 430.45,167.6 430.31,161.63 430.21,155.67 430.15,149.7 430.11,143.73 430.09,137.77 430.08,131.8 430.08,125.83 430.08,119.87 430.08,113.9" fill="url(#g8)" opacity="0.92"/><linearGradient id="g9" gradientUnits="userSpaceOnUse" x1="0" y1="151.4" x2="0" y2="172"><stop offset="0" stop-color="#337bf6"/><stop offset="0.1" stop-color="#3a6df6"/><stop offset="0.2" stop-color="#4060f5"/><stop offset="0.3" stop-color="#4654f4"/><stop offset="0.4" stop-color="#464eec"/><stop offset="0.5" stop-color="#4547e1"/><stop offset="0.6" stop-color="#4340d6"/><stop offset="0.7" stop-color="#423aca"/><stop offset="0.8" stop-color="#4133bf"/><stop offset="0.9" stop-color="#3f2db3"/><stop offset="1" stop-color="#3e26a8"/></linearGradient><polygon points="435.75,151.4 435.75,153.12 435.75,154.83 435.74,156.55 435.73,158.27 435.7,159.98 435.65,161.7 435.56,163.42 435.42,165.13 435.23,166.85 434.95,168.57 434.58,170.28 434.1,172 437.7,172 437.31,170.28 437.02,168.57 436.8,166.85 436.64,165.13 436.53,163.42 436.46,161.7 436.42,159.98 436.4,158.27 436.39,156.55 436.38,154.83 436.38,153.12 436.38,151.4" fill="url(#g9)" opacity="0.92"/><linearGradient id="g10" gradientUnits="userSpaceOnUse" x1="0" y1="180" x2="0" y2="185.5"><stop offset="0" stop-color="#4238c6"/><stop offset="0.1" stop-color="#4136c3"/><stop offset="0.2" stop-color="#4134c0"/><stop offset="0.3" stop-color="#4132bd"/><stop offset="0.4" stop-color="#4031ba"/><stop offset="0.5" stop-color="#402fb7"/><stop offset="0.6" stop-color="#3f2db4"/><stop offset="0.7" stop-color="#3f2bb1"/><stop offset="0.8" stop-color="#3f2aae"/><stop offset="0.9" stop-color="#3e28ab"/><stop offset="1" stop-color="#3e26a8"/></linearGradient><polygon points="417.45,180 417.45,180.46 417.45,180.92 417.45,181.38 417.44,181.83 417.42,182.29 417.39,182.75 417.34,183.21 417.26,183.67 417.15,184.12 416.99,184.58 416.78,185.04 416.5,185.5 418.84,185.5 418.62,185.04 418.45,184.58 418.32,184.12 418.23,183.67 418.17,183.21 418.13,182.75 418.1,182.29 418.09,181.83 418.08,181.38 418.08,180.92 418.08,180.46 418.08,180" fill="url(#g10)" opacity="0.92"/><linearGradient id="g11" gradientUnits="userSpaceOnUse" x1="0" y1="181.5" x2="0" y2="186.5"><stop offset="0" stop-color="#4136c4"/><stop offset="0.1" stop-color="#4134c1"/><stop offset="0.2" stop-color="#4133be"/><stop offset="0.3" stop-color="#4031bb"/><stop offset="0.4" stop-color="#4030b9"/><stop offset="0.5" stop-color="#402eb6"/><stop offset="0.6" stop-color="#3f2cb3"/><stop offset="0.7" stop-color="#3f2bb0"/><stop offset="0.8" stop-color="#3f29ae"/><stop offset="0.9" stop-color="#3e28ab"/><stop offset="1" stop-color="#3e26a8"/></linearGradient><polygon points="425.85,181.5 425.85,181.92 425.85,182.33 425.85,182.75 425.84,183.17 425.82,183.58 425.79,184 425.74,184.42 425.66,184.83 425.55,185.25 425.39,185.67 425.18,186.08 424.9,186.5 427.24,186.5 427.02,186.08 426.85,185.67 426.72,185.25 426.63,184.83 426.57,184.42 426.53,184 426.5,183.58 426.49,183.17 426.48,182.75 426.48,182.33 426.48,181.92 426.48,181.5" fill="url(#g11)" opacity="0.92"/><linearGradient id="g12" gradientUnits="userSpaceOnUse" x1="0" y1="125.3" x2="0" y2="182.5"><stop offset="0" stop-color="#67c870"/><stop offset="0.1" stop-color="#28bfaf"/><stop offset="0.2" stop-color="#1eb9c0"/><stop offset="0.3" stop-color="#14b3d1"/><stop offset="0.4" stop-color="#16a9dc"/><stop offset="0.5" stop-color="#1d9fe4"/><stop offset="0.6" stop-color="#2c89f5"/><stop offset="0.7" stop-color="#3e64f5"/><stop offset="0.8" stop-color="#454be7"/><stop offset="0.9" stop-color="#4238c8"/><stop offset="1" stop-color="#3e26a8"/></linearGradient><polygon points="377.65,125.3 377.65,130.07 377.64,134.83 377.62,139.6 377.59,144.37 377.53,149.13 377.44,153.9 377.32,158.67 377.16,163.43 376.95,168.2 376.7,172.97 376.38,177.73 376,182.5 380,182.5 379.62,177.73 379.3,172.97 379.05,168.2 378.84,163.43 378.68,158.67 378.56,153.9 378.47,149.13 378.41,144.37 378.38,139.6 378.36,134.83 378.35,130.07 378.35,125.3" fill="url(#g12)" opacity="0.92"/><linearGradient id="g13" gradientUnits="userSpaceOnUse" x1="0" y1="120" x2="0" y2="182"><stop offset="0" stop-color="#c0c639"/><stop offset="0.1" stop-color="#4ec884"/><stop offset="0.2" stop-color="#25bdb5"/><stop offset="0.3" stop-color="#1ab6c7"/><stop offset="0.4" stop-color="#13afd8"/><stop offset="0.5" stop-color="#1aa3e1"/><stop offset="0.6" stop-color="#2593ee"/><stop offset="0.7" stop-color="#396ef6"/><stop offset="0.8" stop-color="#464eed"/><stop offset="0.9" stop-color="#423aca"/><stop offset="1" stop-color="#3e26a8"/></linearGradient><polygon points="380.25,120 380.25,125.17 380.24,130.33 380.22,135.5 380.19,140.67 380.13,145.83 380.04,151 379.92,156.17 379.76,161.33 379.55,166.5 379.3,171.67 378.98,176.83 378.6,182 383,182 382.55,176.83 382.17,171.67 381.86,166.5 381.61,161.33 381.41,156.17 381.27,151 381.16,145.83 381.09,140.67 381.05,135.5 381.03,130.33 381.02,125.17 381.02,120" fill="url(#g13)" opacity="0.92"/><linearGradient id="g14" gradientUnits="userSpaceOnUse" x1="0" y1="146" x2="0" y2="187.5"><stop offset="0" stop-color="#16b4cd"/><stop offset="0.1" stop-color="#12afd8"/><stop offset="0.2" stop-color="#18a7de"/><stop offset="0.3" stop-color="#1da0e4"/><stop offset="0.4" stop-color="#2593ed"/><stop offset="0.5" stop-color="#337cf6"/><stop offset="0.6" stop-color="#4061f5"/><stop offset="0.7" stop-color="#464eed"/><stop offset="0.8" stop-color="#4341d6"/><stop offset="0.9" stop-color="#4133bf"/><stop offset="1" stop-color="#3e26a8"/></linearGradient><polygon points="387.85,146 387.85,149.46 387.83,152.92 387.79,156.38 387.73,159.83 387.64,163.29 387.51,166.75 387.35,170.21 387.14,173.67 386.88,177.12 386.57,180.58 386.22,184.04 385.8,187.5 391.8,187.5 391.18,184.04 390.64,180.58 390.18,177.12 389.8,173.67 389.48,170.21 389.23,166.75 389.04,163.29 388.9,159.83 388.81,156.38 388.75,152.92 388.73,149.46 388.72,146" fill="url(#g14)" opacity="0.92"/><path d="M398.5,186 L399.5,170 L402.5,176 L403.5,185 Z" fill="#4848d0" opacity="0.85"/><linearGradient id="g15" gradientUnits="userSpaceOnUse" x1="0" y1="159" x2="0" y2="186"><stop offset="0" stop-color="#1f9ce7"/><stop offset="0.1" stop-color="#2790f0"/><stop offset="0.2" stop-color="#3081f7"/><stop offset="0.3" stop-color="#3970f6"/><stop offset="0.4" stop-color="#415ef5"/><stop offset="0.5" stop-color="#4751f3"/><stop offset="0.6" stop-color="#4549e4"/><stop offset="0.7" stop-color="#4340d5"/><stop offset="0.8" stop-color="#4237c6"/><stop offset="0.9" stop-color="#402fb7"/><stop offset="1" stop-color="#3e26a8"/></linearGradient><polygon points="397.25,159 397.23,161.25 397.19,163.5 397.11,165.75 397,168 396.86,170.25 396.69,172.5 396.48,174.75 396.25,177 395.98,179.25 395.69,181.5 395.36,183.75 395,186 402.02,186 401.41,183.75 400.85,181.5 400.35,179.25 399.9,177 399.5,174.75 399.15,172.5 398.86,170.25 398.62,168 398.43,165.75 398.3,163.5 398.22,161.25 398.2,159" fill="url(#g15)" opacity="0.92"/><polygon points="400,190.27 401,189.51 402,190.1 403,189.54 404,188.46 405,189.17 406,188.41 407,188.81 408,185.68 409,187.75 410,187.17 411,186.81 412,185.21 413,187.14 414,186.32 415,186.42 416,185.9 417,185.17 418,182.74 419,184.64 420,184.74 421,184.7 422,184.06 423,183.89 424,184.36 425,184.47 426,183.28 427,182.67 428,181.29 429,183.51 430,181.38 431,181.86 432,181.57 433,181.86 434,181.56 435,181.39 436,181.52 437,180.88 438,180.79 439,180.27 440,180.01 441,180.15 442,178.15 443,178.81 444,179.08 445,179.23 446,179.01 447,179.15 448,178.51 449,178.37 450,175.9 451,177.75 452,175.17 453,176.82 454,175.22 455,176.98 456,176.74 457,175.86 458,176.33 459,175.89 460,175.44 461,172.87 462,174.31 463,173.97 464,174.01 465,174.09 466,172.19 467,173.93 468,172.82 469,172.59 470,173.58 470,174.3 469,174.54 468,174.79 467,175.03 466,175.27 465,175.51 464,175.76 463,176 462,176.24 461,176.49 460,176.73 459,176.97 458,177.21 457,177.46 456,177.7 455,177.94 454,178.19 453,178.43 452,178.67 451,178.91 450,179.16 449,179.4 448,179.64 447,179.89 446,180.13 445,180.37 444,180.61 443,180.86 442,181.1 441,181.34 440,181.59 439,181.83 438,182.07 437,182.31 436,182.56 435,182.8 434,183.04 433,183.29 432,183.53 431,183.77 430,184.01 429,184.26 428,184.5 427,184.74 426,184.99 425,185.23 424,185.47 423,185.71 422,185.96 421,186.2 420,186.44 419,186.69 418,186.93 417,187.17 416,187.41 415,187.66 414,187.9 413,188.14 412,188.39 411,188.63 410,188.87 409,189.11 408,189.36 407,189.6 406,189.84 405,190.09 404,190.33 403,190.57 402,190.81 401,191.06 400,191.3" fill="#4a4ac8" opacity="0.85"/><path d="M401,191.5 L403,188 L405,189.5 L408,187 L411,188.5 L414,185.5 L417,187.5 L420,186 L420,188.5 L410,191.5 Z" fill="#4040c4" opacity="0.9"/><path d="M372,183 L375,181.5 L377,183 Z M358,181 L362,179 L364,181 Z" fill="#5555c0" opacity="0.8"/><text x="368" y="105.5" font-size="7.4" font-weight="normal" fill="#141414" text-anchor="middle" >10</text><text x="377.4" y="124.6" font-size="7.4" font-weight="normal" fill="#141414" text-anchor="middle" >8</text><text x="381.5" y="118.8" font-size="7.4" font-weight="normal" fill="#141414" text-anchor="middle" >9</text><text x="387.6" y="144.9" font-size="7.4" font-weight="normal" fill="#141414" text-anchor="middle" >4</text><text x="397.7" y="157" font-size="7.4" font-weight="normal" fill="#141414" text-anchor="middle" >3</text><text x="406.8" y="174.4" font-size="7.4" font-weight="normal" fill="#141414" text-anchor="middle" >2</text><text x="421.2" y="183.5" font-size="7.4" font-weight="normal" fill="#141414" text-anchor="middle" >1</text><text x="416.7" y="141.8" font-size="7.4" font-weight="normal" fill="#141414" text-anchor="middle" >7</text><text x="424" y="109.7" font-size="7.4" font-weight="normal" fill="#141414" text-anchor="middle" >5</text><text x="436" y="149.4" font-size="7.4" font-weight="normal" fill="#141414" text-anchor="middle" >6</text><text x="372.7" y="99.2" font-size="12.3" font-weight="bold" fill="#0a0a0a" text-anchor="start" textLength="78.8" lengthAdjust="spacingAndGlyphs" >Experimental</text><rect x="167" y="169.5" width="154.5" height="125" fill="#efefef"/><rect x="168.4" y="170.9" width="151.7" height="122.2" fill="none" stroke="#fafafa" stroke-width="0.8"/><path d="M166,169.5 L322.5,169.5" stroke="#a8a8a8" stroke-width="1.7" fill="none"/><path d="M167,170 L167,294.5 L321.5,294.5 L321.5,170" stroke="#7b7b7b" stroke-width="1.7" fill="none" stroke-linejoin="round"/><polygon points="176.5,264.9 244.6,244.4 244.6,168.4 176.5,188.9" fill="#ffffff" stroke="none" stroke-width="1" /><polygon points="244.6,244.4 313,264 313,188 244.6,168.4" fill="#ffffff" stroke="none" stroke-width="1" /><polygon points="176.5,264.9 244.9,284.5 313,264 244.6,244.4" fill="#ffffff" stroke="none" stroke-width="1" /><line x1="176.5" y1="226.9" x2="244.6" y2="206.4" stroke="#e4e4e4" stroke-width="0.6" /><line x1="244.6" y1="206.4" x2="313" y2="226" stroke="#e4e4e4" stroke-width="0.6" /><line x1="210.55" y1="254.65" x2="210.55" y2="178.65" stroke="#e4e4e4" stroke-width="0.6" /><line x1="278.95" y1="274.25" x2="210.55" y2="254.65" stroke="#e4e4e4" stroke-width="0.6" /><line x1="278.8" y1="254.2" x2="278.8" y2="178.2" stroke="#e4e4e4" stroke-width="0.6" /><line x1="210.7" y1="274.7" x2="278.8" y2="254.2" stroke="#e4e4e4" stroke-width="0.6" /><line x1="244.6" y1="244.4" x2="244.6" y2="168.4" stroke="#e4e4e4" stroke-width="0.6" /><line x1="176.5" y1="188.9" x2="176.5" y2="264.9" stroke="#a0a0a0" stroke-width="0.8" /><line x1="176.5" y1="226.9" x2="178" y2="226.5" stroke="#8c8c8c" stroke-width="0.6" /><line x1="176.5" y1="264.9" x2="244.9" y2="284.5" stroke="#9c9c9c" stroke-width="0.8" /><line x1="244.9" y1="284.5" x2="313" y2="264" stroke="#9c9c9c" stroke-width="0.8" /><text x="171.3" y="272.4" font-size="6.1" font-weight="normal" fill="#2e2e2e" text-anchor="middle" textLength="5.97" lengthAdjust="spacingAndGlyphs" >40</text><text x="204.7" y="282.4" font-size="6.1" font-weight="normal" fill="#2e2e2e" text-anchor="middle" textLength="5.97" lengthAdjust="spacingAndGlyphs" >20</text><text x="240.1" y="291.5" font-size="6.1" font-weight="normal" fill="#2e2e2e" text-anchor="middle" textLength="2.98" lengthAdjust="spacingAndGlyphs" >0</text><text x="249.4" y="292" font-size="6.1" font-weight="normal" fill="#2e2e2e" text-anchor="middle" textLength="2.98" lengthAdjust="spacingAndGlyphs" >0</text><text x="285.3" y="282.4" font-size="6.1" font-weight="normal" fill="#2e2e2e" text-anchor="middle" textLength="5.97" lengthAdjust="spacingAndGlyphs" >20</text><text x="318.2" y="272.4" font-size="6.1" font-weight="normal" fill="#2e2e2e" text-anchor="middle" textLength="5.97" lengthAdjust="spacingAndGlyphs" >40</text><text x="189.8" y="290" font-size="6.4" font-weight="normal" fill="#2a2a2a" text-anchor="start" letter-spacing="-0.12"><tspan font-size="4.2" dy="-3.1">2</tspan><tspan dy="3.1">D (s)</tspan></text><text x="278" y="290" font-size="6.4" font-weight="normal" fill="#2a2a2a" text-anchor="start" letter-spacing="-0.2"><tspan font-size="4.2" dy="-3.1">1</tspan><tspan dy="3.1">D (min)</tspan></text><linearGradient id="g16" gradientUnits="userSpaceOnUse" x1="0" y1="220" x2="0" y2="268.7"><stop offset="0" stop-color="#27beb1"/><stop offset="0.1" stop-color="#1eb9c1"/><stop offset="0.2" stop-color="#15b3d0"/><stop offset="0.3" stop-color="#15abda"/><stop offset="0.4" stop-color="#1ba2e2"/><stop offset="0.5" stop-color="#2396eb"/><stop offset="0.6" stop-color="#3479f6"/><stop offset="0.7" stop-color="#4458f4"/><stop offset="0.8" stop-color="#4546e0"/><stop offset="0.9" stop-color="#4136c4"/><stop offset="1" stop-color="#3e26a8"/></linearGradient><polygon points="202.25,220 202.25,224.06 202.25,228.12 202.25,232.18 202.24,236.23 202.22,240.29 202.18,244.35 202.12,248.41 202.02,252.47 201.89,256.52 201.7,260.58 201.44,264.64 201.1,268.7 203.8,268.7 203.53,264.64 203.32,260.58 203.17,256.52 203.06,252.47 202.99,248.41 202.94,244.35 202.91,240.29 202.89,236.23 202.88,232.18 202.88,228.12 202.88,224.06 202.88,220" fill="url(#g16)" opacity="0.92"/><linearGradient id="g17" gradientUnits="userSpaceOnUse" x1="0" y1="197.6" x2="0" y2="269.2"><stop offset="0" stop-color="#f7f412"/><stop offset="0.1" stop-color="#fbd02d"/><stop offset="0.2" stop-color="#93c74c"/><stop offset="0.3" stop-color="#2ac0ad"/><stop offset="0.4" stop-color="#1cb8c3"/><stop offset="0.5" stop-color="#12afd8"/><stop offset="0.6" stop-color="#1ca1e3"/><stop offset="0.7" stop-color="#2d86f7"/><stop offset="0.8" stop-color="#4556f4"/><stop offset="0.9" stop-color="#433ed1"/><stop offset="1" stop-color="#3e26a8"/></linearGradient><polygon points="213.45,197.6 213.45,203.57 213.45,209.53 213.44,215.5 213.43,221.47 213.41,227.43 213.37,233.4 213.29,239.37 213.18,245.33 213.02,251.3 212.8,257.27 212.5,263.23 212.1,269.2 215.16,269.2 214.84,263.23 214.6,257.27 214.42,251.3 214.29,245.33 214.21,239.37 214.15,233.4 214.11,227.43 214.09,221.47 214.08,215.5 214.08,209.53 214.08,203.57 214.08,197.6" fill="url(#g17)" opacity="0.92"/><linearGradient id="g18" gradientUnits="userSpaceOnUse" x1="0" y1="199.5" x2="0" y2="268"><stop offset="0" stop-color="#f5ec17"/><stop offset="0.1" stop-color="#e6c438"/><stop offset="0.2" stop-color="#65c872"/><stop offset="0.3" stop-color="#26beb4"/><stop offset="0.4" stop-color="#19b6c9"/><stop offset="0.5" stop-color="#14acda"/><stop offset="0.6" stop-color="#1d9fe4"/><stop offset="0.7" stop-color="#3080f7"/><stop offset="0.8" stop-color="#4654f4"/><stop offset="0.9" stop-color="#433dcf"/><stop offset="1" stop-color="#3e26a8"/></linearGradient><polygon points="215.45,199.5 215.45,205.21 215.45,210.92 215.45,216.62 215.44,222.33 215.42,228.04 215.38,233.75 215.32,239.46 215.22,245.17 215.09,250.88 214.9,256.58 214.64,262.29 214.3,268 217,268 216.73,262.29 216.52,256.58 216.37,250.88 216.26,245.17 216.19,239.46 216.14,233.75 216.11,228.04 216.09,222.33 216.08,216.62 216.08,210.92 216.08,205.21 216.08,199.5" fill="url(#g18)" opacity="0.92"/><linearGradient id="g19" gradientUnits="userSpaceOnUse" x1="0" y1="251" x2="0" y2="272.5"><stop offset="0" stop-color="#2d86f7"/><stop offset="0.1" stop-color="#3478f6"/><stop offset="0.2" stop-color="#3c69f5"/><stop offset="0.3" stop-color="#435af4"/><stop offset="0.4" stop-color="#4751f2"/><stop offset="0.5" stop-color="#454ae6"/><stop offset="0.6" stop-color="#4443da"/><stop offset="0.7" stop-color="#423ccd"/><stop offset="0.8" stop-color="#4134c1"/><stop offset="0.9" stop-color="#3f2db4"/><stop offset="1" stop-color="#3e26a8"/></linearGradient><polygon points="221.35,251 221.35,252.79 221.35,254.58 221.34,256.38 221.33,258.17 221.31,259.96 221.26,261.75 221.18,263.54 221.06,265.33 220.89,267.12 220.65,268.92 220.33,270.71 219.9,272.5 223.14,272.5 222.8,270.71 222.54,268.92 222.35,267.12 222.21,265.33 222.11,263.54 222.05,261.75 222.01,259.96 221.99,258.17 221.98,256.38 221.98,254.58 221.98,252.79 221.98,251" fill="url(#g19)" opacity="0.92"/><linearGradient id="g20" gradientUnits="userSpaceOnUse" x1="0" y1="255.4" x2="0" y2="271.4"><stop offset="0" stop-color="#4061f5"/><stop offset="0.1" stop-color="#4556f4"/><stop offset="0.2" stop-color="#4751f2"/><stop offset="0.3" stop-color="#464be8"/><stop offset="0.4" stop-color="#4546df"/><stop offset="0.5" stop-color="#4341d6"/><stop offset="0.6" stop-color="#423bcd"/><stop offset="0.7" stop-color="#4136c4"/><stop offset="0.8" stop-color="#4031ba"/><stop offset="0.9" stop-color="#3f2bb1"/><stop offset="1" stop-color="#3e26a8"/></linearGradient><polygon points="228.85,255.4 228.85,256.73 228.85,258.07 228.84,259.4 228.83,260.73 228.81,262.07 228.76,263.4 228.68,264.73 228.56,266.07 228.39,267.4 228.15,268.73 227.83,270.07 227.4,271.4 230.64,271.4 230.3,270.07 230.04,268.73 229.85,267.4 229.71,266.07 229.61,264.73 229.55,263.4 229.51,262.07 229.49,260.73 229.48,259.4 229.48,258.07 229.48,256.73 229.48,255.4" fill="url(#g20)" opacity="0.92"/><linearGradient id="g21" gradientUnits="userSpaceOnUse" x1="0" y1="257.5" x2="0" y2="269.8"><stop offset="0" stop-color="#464fef"/><stop offset="0.1" stop-color="#464be8"/><stop offset="0.2" stop-color="#4547e1"/><stop offset="0.3" stop-color="#4443da"/><stop offset="0.4" stop-color="#433fd2"/><stop offset="0.5" stop-color="#423bcb"/><stop offset="0.6" stop-color="#4136c4"/><stop offset="0.7" stop-color="#4132bd"/><stop offset="0.8" stop-color="#402eb6"/><stop offset="0.9" stop-color="#3f2aaf"/><stop offset="1" stop-color="#3e26a8"/></linearGradient><polygon points="238.25,257.5 238.25,258.52 238.25,259.55 238.25,260.57 238.23,261.6 238.21,262.62 238.17,263.65 238.11,264.68 238,265.7 237.85,266.73 237.65,267.75 237.37,268.78 237,269.8 239.88,269.8 239.59,268.78 239.36,267.75 239.2,266.73 239.08,265.7 239,264.68 238.94,263.65 238.91,262.62 238.89,261.6 238.88,260.57 238.88,259.55 238.88,258.52 238.88,257.5" fill="url(#g21)" opacity="0.92"/><linearGradient id="g22" gradientUnits="userSpaceOnUse" x1="0" y1="198.7" x2="0" y2="263"><stop offset="0" stop-color="#fbcf2e"/><stop offset="0.1" stop-color="#a0c742"/><stop offset="0.2" stop-color="#31c4a1"/><stop offset="0.3" stop-color="#20babd"/><stop offset="0.4" stop-color="#14b3d1"/><stop offset="0.5" stop-color="#17a8dd"/><stop offset="0.6" stop-color="#1f9be7"/><stop offset="0.7" stop-color="#3577f6"/><stop offset="0.8" stop-color="#4751f2"/><stop offset="0.9" stop-color="#423bcd"/><stop offset="1" stop-color="#3e26a8"/></linearGradient><polygon points="245.85,198.7 245.85,204.06 245.85,209.42 245.85,214.77 245.84,220.13 245.82,225.49 245.78,230.85 245.72,236.21 245.62,241.57 245.49,246.93 245.3,252.28 245.04,257.64 244.7,263 247.4,263 247.13,257.64 246.92,252.28 246.77,246.93 246.66,241.57 246.59,236.21 246.54,230.85 246.51,225.49 246.49,220.13 246.48,214.77 246.48,209.42 246.48,204.06 246.48,198.7" fill="url(#g22)" opacity="0.92"/><linearGradient id="g23" gradientUnits="userSpaceOnUse" x1="0" y1="205" x2="0" y2="261"><stop offset="0" stop-color="#7bc760"/><stop offset="0.1" stop-color="#2ac0ac"/><stop offset="0.2" stop-color="#20babe"/><stop offset="0.3" stop-color="#15b4cf"/><stop offset="0.4" stop-color="#15abdb"/><stop offset="0.5" stop-color="#1ca0e4"/><stop offset="0.6" stop-color="#2a8bf4"/><stop offset="0.7" stop-color="#3d66f5"/><stop offset="0.8" stop-color="#464be8"/><stop offset="0.9" stop-color="#4239c8"/><stop offset="1" stop-color="#3e26a8"/></linearGradient><polygon points="254.75,205 254.75,209.67 254.75,214.33 254.75,219 254.74,223.67 254.72,228.33 254.68,233 254.62,237.67 254.52,242.33 254.39,247 254.2,251.67 253.94,256.33 253.6,261 256.3,261 256.03,256.33 255.82,251.67 255.67,247 255.56,242.33 255.49,237.67 255.44,233 255.41,228.33 255.39,223.67 255.38,219 255.38,214.33 255.38,209.67 255.38,205" fill="url(#g23)" opacity="0.92"/><linearGradient id="g24" gradientUnits="userSpaceOnUse" x1="0" y1="206" x2="0" y2="257.5"><stop offset="0" stop-color="#32c5a0"/><stop offset="0.1" stop-color="#23bcb9"/><stop offset="0.2" stop-color="#19b6c9"/><stop offset="0.3" stop-color="#12afd7"/><stop offset="0.4" stop-color="#19a5df"/><stop offset="0.5" stop-color="#1f9be7"/><stop offset="0.6" stop-color="#3080f7"/><stop offset="0.7" stop-color="#425df5"/><stop offset="0.8" stop-color="#4548e3"/><stop offset="0.9" stop-color="#4237c6"/><stop offset="1" stop-color="#3e26a8"/></linearGradient><polygon points="266.55,206 266.55,210.29 266.55,214.58 266.55,218.88 266.54,223.17 266.52,227.46 266.48,231.75 266.42,236.04 266.32,240.33 266.19,244.62 266,248.92 265.74,253.21 265.4,257.5 268.1,257.5 267.83,253.21 267.62,248.92 267.47,244.62 267.36,240.33 267.29,236.04 267.24,231.75 267.21,227.46 267.19,223.17 267.18,218.88 267.18,214.58 267.18,210.29 267.18,206" fill="url(#g24)" opacity="0.92"/><path d="M243.9,270.8 L247.5,268.6 L252.4,271.4 Z" fill="#3a2fb0"/><text x="203" y="219.3" font-size="7.4" font-weight="normal" fill="#141414" text-anchor="middle" >10</text><text x="212.8" y="196" font-size="7.4" font-weight="normal" fill="#141414" text-anchor="middle" >8</text><text x="217.6" y="199.4" font-size="7.4" font-weight="normal" fill="#141414" text-anchor="middle" >9</text><text x="221.7" y="251.2" font-size="7.4" font-weight="normal" fill="#141414" text-anchor="middle" >4</text><text x="229.5" y="254.2" font-size="7.4" font-weight="normal" fill="#141414" text-anchor="middle" >3</text><text x="239.7" y="257.1" font-size="7.4" font-weight="normal" fill="#141414" text-anchor="middle" >2</text><text x="250.2" y="269.2" font-size="7.4" font-weight="normal" fill="#141414" text-anchor="middle" >1</text><text x="246.2" y="196.8" font-size="7.4" font-weight="normal" fill="#141414" text-anchor="middle" >7</text><text x="255.5" y="202.4" font-size="7.4" font-weight="normal" fill="#141414" text-anchor="middle" >5</text><text x="266.8" y="204" font-size="7.4" font-weight="normal" fill="#141414" text-anchor="middle" >6</text><text x="212.2" y="184.4" font-size="12.3" font-weight="bold" fill="#0a0a0a" text-anchor="start" textLength="56.2" lengthAdjust="spacingAndGlyphs" >Predicted</text></svg></body></html>
